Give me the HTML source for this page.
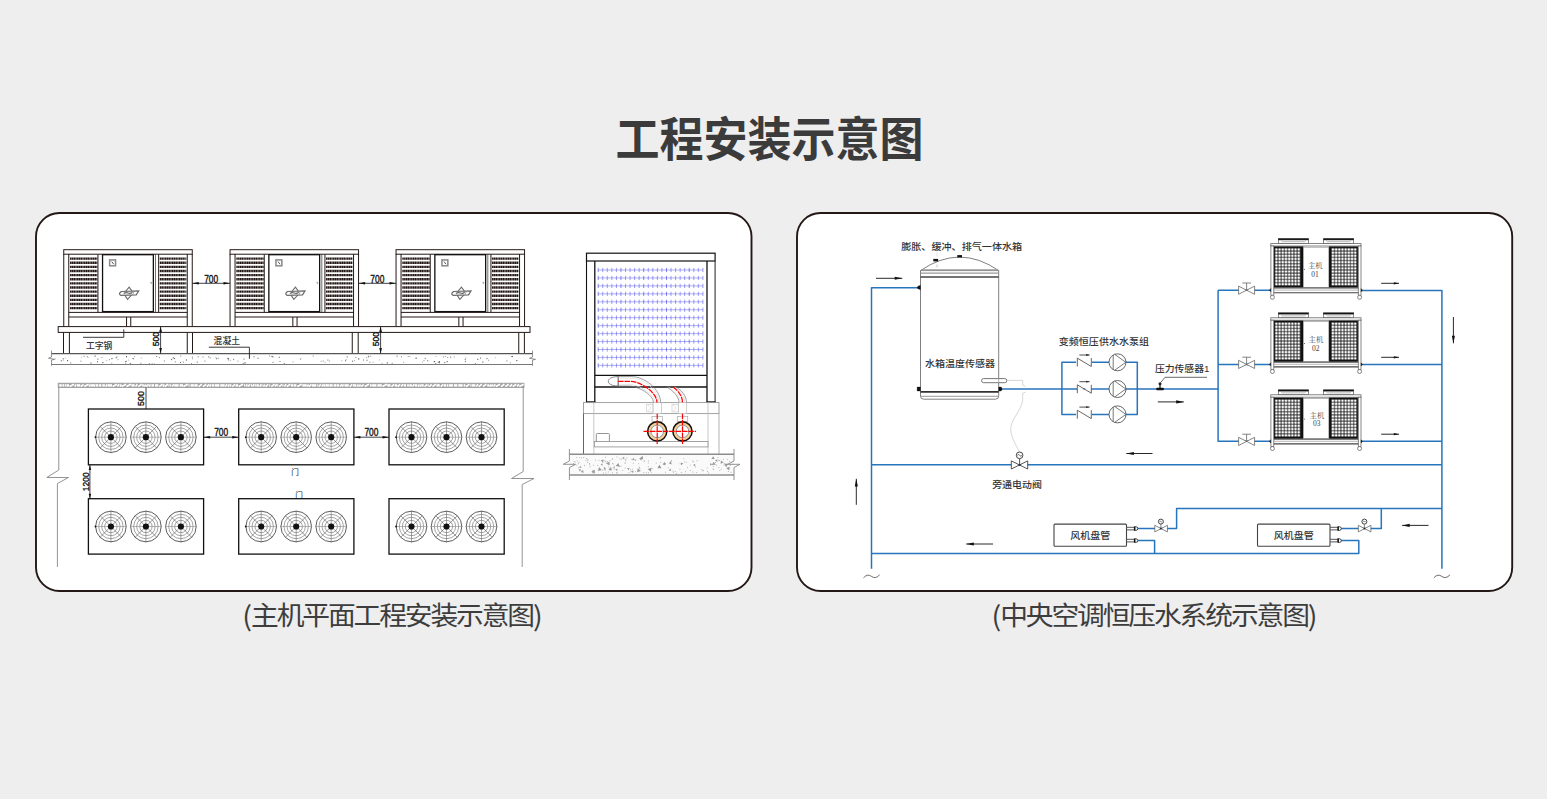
<!DOCTYPE html>
<html lang="zh-CN"><head><meta charset="utf-8"><title>工程安装示意图</title>
<style>
html,body{margin:0;padding:0;background:#eee;}
body{width:1547px;height:799px;position:relative;overflow:hidden;font-family:'Liberation Sans','Noto Sans CJK SC',sans-serif;}
#title{position:absolute;left:0.9px;top:107.5px;width:1537px;text-align:center;font-size:44px;line-height:64px;font-weight:700;color:#3b3b3b;letter-spacing:0;white-space:nowrap;transform:scaleY(1.065);transform-origin:50% 50%;}
.cap{position:absolute;top:595.2px;font-size:26px;letter-spacing:-2px;line-height:38px;color:#3d3d3d;font-weight:400;white-space:nowrap;text-align:center;transform:scale(1.068,1.0);transform-origin:50% 50%;}
.cap i{font-style:normal;font-family:'Noto Sans CJK SC',sans-serif;font-weight:400;font-size:27px;position:relative;top:0.7px;letter-spacing:-1px;}
svg{position:absolute;left:0;top:0;}
</style></head><body>
<svg width="1547" height="799" viewBox="0 0 1547 799">
<defs>
<pattern id="mesh" x="1274.8" y="247.93" width="3.19" height="3.15" patternUnits="userSpaceOnUse"><rect x="0.4" y="0.4" width="2.39" height="2.35" fill="#fff"/></pattern>
<pattern id="mesh2" x="1331.3" y="247.93" width="3.19" height="3.15" patternUnits="userSpaceOnUse"><rect x="0.4" y="0.4" width="2.39" height="2.35" fill="#fff"/></pattern>
</defs>
<g id="left-diagram">
<rect x="36" y="213" width="715.5" height="378" rx="23.5" ry="23.5" fill="#fff" stroke="#231815" stroke-width="1.9"/>
<rect x="797" y="213" width="715.2" height="378" rx="23.5" ry="23.5" fill="#fff" stroke="#231815" stroke-width="1.9"/>
<rect x="63.75" y="249.70" width="128.50" height="4.50" stroke="#231815" stroke-width="1" fill="#fff" />
<line x1="63.75" y1="254.00" x2="63.75" y2="326.50" stroke="#231815" stroke-width="1" />
<line x1="68.75" y1="254.00" x2="68.75" y2="326.50" stroke="#231815" stroke-width="1" />
<line x1="187.25" y1="254.00" x2="187.25" y2="326.50" stroke="#231815" stroke-width="1" />
<line x1="192.25" y1="254.00" x2="192.25" y2="326.50" stroke="#231815" stroke-width="1" />
<line x1="97.95" y1="254.30" x2="97.95" y2="312.30" stroke="#231815" stroke-width="1.0" />
<line x1="70.05" y1="258.60" x2="97.35" y2="258.60" stroke="#231815" stroke-width="2.4" stroke-dasharray="1.45 0.3"/>
<line x1="70.05" y1="262.73" x2="97.35" y2="262.73" stroke="#231815" stroke-width="2.4" stroke-dasharray="1.45 0.3"/>
<line x1="70.05" y1="266.86" x2="97.35" y2="266.86" stroke="#231815" stroke-width="2.4" stroke-dasharray="1.45 0.3"/>
<line x1="70.05" y1="270.99" x2="97.35" y2="270.99" stroke="#231815" stroke-width="2.4" stroke-dasharray="1.45 0.3"/>
<line x1="70.05" y1="275.12" x2="97.35" y2="275.12" stroke="#231815" stroke-width="2.4" stroke-dasharray="1.45 0.3"/>
<line x1="70.05" y1="279.25" x2="97.35" y2="279.25" stroke="#231815" stroke-width="2.4" stroke-dasharray="1.45 0.3"/>
<line x1="70.05" y1="283.38" x2="97.35" y2="283.38" stroke="#231815" stroke-width="2.4" stroke-dasharray="1.45 0.3"/>
<line x1="70.05" y1="287.51" x2="97.35" y2="287.51" stroke="#231815" stroke-width="2.4" stroke-dasharray="1.45 0.3"/>
<line x1="70.05" y1="291.64" x2="97.35" y2="291.64" stroke="#231815" stroke-width="2.4" stroke-dasharray="1.45 0.3"/>
<line x1="70.05" y1="295.77" x2="97.35" y2="295.77" stroke="#231815" stroke-width="2.4" stroke-dasharray="1.45 0.3"/>
<line x1="70.05" y1="299.90" x2="97.35" y2="299.90" stroke="#231815" stroke-width="2.4" stroke-dasharray="1.45 0.3"/>
<line x1="70.05" y1="304.03" x2="97.35" y2="304.03" stroke="#231815" stroke-width="2.4" stroke-dasharray="1.45 0.3"/>
<line x1="70.05" y1="308.16" x2="97.35" y2="308.16" stroke="#231815" stroke-width="2.4" stroke-dasharray="1.45 0.3"/>
<line x1="158.65" y1="254.30" x2="158.65" y2="312.30" stroke="#231815" stroke-width="1.0" />
<line x1="159.75" y1="258.60" x2="186.35" y2="258.60" stroke="#231815" stroke-width="2.4" stroke-dasharray="1.45 0.3"/>
<line x1="159.75" y1="262.73" x2="186.35" y2="262.73" stroke="#231815" stroke-width="2.4" stroke-dasharray="1.45 0.3"/>
<line x1="159.75" y1="266.86" x2="186.35" y2="266.86" stroke="#231815" stroke-width="2.4" stroke-dasharray="1.45 0.3"/>
<line x1="159.75" y1="270.99" x2="186.35" y2="270.99" stroke="#231815" stroke-width="2.4" stroke-dasharray="1.45 0.3"/>
<line x1="159.75" y1="275.12" x2="186.35" y2="275.12" stroke="#231815" stroke-width="2.4" stroke-dasharray="1.45 0.3"/>
<line x1="159.75" y1="279.25" x2="186.35" y2="279.25" stroke="#231815" stroke-width="2.4" stroke-dasharray="1.45 0.3"/>
<line x1="159.75" y1="283.38" x2="186.35" y2="283.38" stroke="#231815" stroke-width="2.4" stroke-dasharray="1.45 0.3"/>
<line x1="159.75" y1="287.51" x2="186.35" y2="287.51" stroke="#231815" stroke-width="2.4" stroke-dasharray="1.45 0.3"/>
<line x1="159.75" y1="291.64" x2="186.35" y2="291.64" stroke="#231815" stroke-width="2.4" stroke-dasharray="1.45 0.3"/>
<line x1="159.75" y1="295.77" x2="186.35" y2="295.77" stroke="#231815" stroke-width="2.4" stroke-dasharray="1.45 0.3"/>
<line x1="159.75" y1="299.90" x2="186.35" y2="299.90" stroke="#231815" stroke-width="2.4" stroke-dasharray="1.45 0.3"/>
<line x1="159.75" y1="304.03" x2="186.35" y2="304.03" stroke="#231815" stroke-width="2.4" stroke-dasharray="1.45 0.3"/>
<line x1="159.75" y1="308.16" x2="186.35" y2="308.16" stroke="#231815" stroke-width="2.4" stroke-dasharray="1.45 0.3"/>
<rect x="102.55" y="254.70" width="50.80" height="56.90" stroke="#111" stroke-width="1.3" fill="#fff" />
<line x1="155.50" y1="254.30" x2="155.50" y2="312.30" stroke="#333" stroke-width="0.7" />
<line x1="68.75" y1="312.40" x2="187.25" y2="312.40" stroke="#231815" stroke-width="1" />
<line x1="68.75" y1="317.00" x2="187.25" y2="317.00" stroke="#231815" stroke-width="1" />
<line x1="126.55" y1="317.00" x2="126.55" y2="326.50" stroke="#231815" stroke-width="1" />
<line x1="130.75" y1="317.00" x2="130.75" y2="326.50" stroke="#231815" stroke-width="1" />
<rect x="109.65" y="259.90" width="5.90" height="5.90" stroke="#888" stroke-width="1.5" fill="#fff" />
<path d="M111.75 261.6 L113.65 264.2" stroke="#444" stroke-width="0.9" fill="none" />
<path d="M149.95 282.4 h1.6 l-0.4 1.8" stroke="#888" stroke-width="0.7" fill="none" />
<path d="M123.75 293.50 L129.15 287.20 L133.35 293.00 L127.55 299.40 Z" stroke="#6a6a6a" stroke-width="1.1" fill="none" />
<path d="M120.65 295.30 q-2.6 -1.6 0.6 -3.8 L138.65 291.00 L136.25 294.80 Z" stroke="#6a6a6a" stroke-width="1.25" fill="#fff" />
<path d="M123.65 293.50 q2 -1.4 4.4 -0.5 t4.4 -0.7" stroke="#666" stroke-width="1.3" fill="none" />
<path d="M133.85 291.60 l-0.9 2.9" stroke="#888" stroke-width="0.7" fill="none" />
<rect x="230.05" y="249.70" width="128.50" height="4.50" stroke="#231815" stroke-width="1" fill="#fff" />
<line x1="230.05" y1="254.00" x2="230.05" y2="326.50" stroke="#231815" stroke-width="1" />
<line x1="235.05" y1="254.00" x2="235.05" y2="326.50" stroke="#231815" stroke-width="1" />
<line x1="353.55" y1="254.00" x2="353.55" y2="326.50" stroke="#231815" stroke-width="1" />
<line x1="358.55" y1="254.00" x2="358.55" y2="326.50" stroke="#231815" stroke-width="1" />
<line x1="264.25" y1="254.30" x2="264.25" y2="312.30" stroke="#231815" stroke-width="1.0" />
<line x1="236.35" y1="258.60" x2="263.65" y2="258.60" stroke="#231815" stroke-width="2.4" stroke-dasharray="1.45 0.3"/>
<line x1="236.35" y1="262.73" x2="263.65" y2="262.73" stroke="#231815" stroke-width="2.4" stroke-dasharray="1.45 0.3"/>
<line x1="236.35" y1="266.86" x2="263.65" y2="266.86" stroke="#231815" stroke-width="2.4" stroke-dasharray="1.45 0.3"/>
<line x1="236.35" y1="270.99" x2="263.65" y2="270.99" stroke="#231815" stroke-width="2.4" stroke-dasharray="1.45 0.3"/>
<line x1="236.35" y1="275.12" x2="263.65" y2="275.12" stroke="#231815" stroke-width="2.4" stroke-dasharray="1.45 0.3"/>
<line x1="236.35" y1="279.25" x2="263.65" y2="279.25" stroke="#231815" stroke-width="2.4" stroke-dasharray="1.45 0.3"/>
<line x1="236.35" y1="283.38" x2="263.65" y2="283.38" stroke="#231815" stroke-width="2.4" stroke-dasharray="1.45 0.3"/>
<line x1="236.35" y1="287.51" x2="263.65" y2="287.51" stroke="#231815" stroke-width="2.4" stroke-dasharray="1.45 0.3"/>
<line x1="236.35" y1="291.64" x2="263.65" y2="291.64" stroke="#231815" stroke-width="2.4" stroke-dasharray="1.45 0.3"/>
<line x1="236.35" y1="295.77" x2="263.65" y2="295.77" stroke="#231815" stroke-width="2.4" stroke-dasharray="1.45 0.3"/>
<line x1="236.35" y1="299.90" x2="263.65" y2="299.90" stroke="#231815" stroke-width="2.4" stroke-dasharray="1.45 0.3"/>
<line x1="236.35" y1="304.03" x2="263.65" y2="304.03" stroke="#231815" stroke-width="2.4" stroke-dasharray="1.45 0.3"/>
<line x1="236.35" y1="308.16" x2="263.65" y2="308.16" stroke="#231815" stroke-width="2.4" stroke-dasharray="1.45 0.3"/>
<line x1="324.95" y1="254.30" x2="324.95" y2="312.30" stroke="#231815" stroke-width="1.0" />
<line x1="326.05" y1="258.60" x2="352.65" y2="258.60" stroke="#231815" stroke-width="2.4" stroke-dasharray="1.45 0.3"/>
<line x1="326.05" y1="262.73" x2="352.65" y2="262.73" stroke="#231815" stroke-width="2.4" stroke-dasharray="1.45 0.3"/>
<line x1="326.05" y1="266.86" x2="352.65" y2="266.86" stroke="#231815" stroke-width="2.4" stroke-dasharray="1.45 0.3"/>
<line x1="326.05" y1="270.99" x2="352.65" y2="270.99" stroke="#231815" stroke-width="2.4" stroke-dasharray="1.45 0.3"/>
<line x1="326.05" y1="275.12" x2="352.65" y2="275.12" stroke="#231815" stroke-width="2.4" stroke-dasharray="1.45 0.3"/>
<line x1="326.05" y1="279.25" x2="352.65" y2="279.25" stroke="#231815" stroke-width="2.4" stroke-dasharray="1.45 0.3"/>
<line x1="326.05" y1="283.38" x2="352.65" y2="283.38" stroke="#231815" stroke-width="2.4" stroke-dasharray="1.45 0.3"/>
<line x1="326.05" y1="287.51" x2="352.65" y2="287.51" stroke="#231815" stroke-width="2.4" stroke-dasharray="1.45 0.3"/>
<line x1="326.05" y1="291.64" x2="352.65" y2="291.64" stroke="#231815" stroke-width="2.4" stroke-dasharray="1.45 0.3"/>
<line x1="326.05" y1="295.77" x2="352.65" y2="295.77" stroke="#231815" stroke-width="2.4" stroke-dasharray="1.45 0.3"/>
<line x1="326.05" y1="299.90" x2="352.65" y2="299.90" stroke="#231815" stroke-width="2.4" stroke-dasharray="1.45 0.3"/>
<line x1="326.05" y1="304.03" x2="352.65" y2="304.03" stroke="#231815" stroke-width="2.4" stroke-dasharray="1.45 0.3"/>
<line x1="326.05" y1="308.16" x2="352.65" y2="308.16" stroke="#231815" stroke-width="2.4" stroke-dasharray="1.45 0.3"/>
<rect x="268.85" y="254.70" width="50.80" height="56.90" stroke="#111" stroke-width="1.3" fill="#fff" />
<line x1="321.80" y1="254.30" x2="321.80" y2="312.30" stroke="#333" stroke-width="0.7" />
<line x1="235.05" y1="312.40" x2="353.55" y2="312.40" stroke="#231815" stroke-width="1" />
<line x1="235.05" y1="317.00" x2="353.55" y2="317.00" stroke="#231815" stroke-width="1" />
<line x1="292.85" y1="317.00" x2="292.85" y2="326.50" stroke="#231815" stroke-width="1" />
<line x1="297.05" y1="317.00" x2="297.05" y2="326.50" stroke="#231815" stroke-width="1" />
<rect x="275.95" y="259.90" width="5.90" height="5.90" stroke="#888" stroke-width="1.5" fill="#fff" />
<path d="M278.05 261.6 L279.95 264.2" stroke="#444" stroke-width="0.9" fill="none" />
<path d="M316.25 282.4 h1.6 l-0.4 1.8" stroke="#888" stroke-width="0.7" fill="none" />
<path d="M290.05 293.50 L295.45 287.20 L299.65 293.00 L293.85 299.40 Z" stroke="#6a6a6a" stroke-width="1.1" fill="none" />
<path d="M286.95 295.30 q-2.6 -1.6 0.6 -3.8 L304.95 291.00 L302.55 294.80 Z" stroke="#6a6a6a" stroke-width="1.25" fill="#fff" />
<path d="M289.95 293.50 q2 -1.4 4.4 -0.5 t4.4 -0.7" stroke="#666" stroke-width="1.3" fill="none" />
<path d="M300.15 291.60 l-0.9 2.9" stroke="#888" stroke-width="0.7" fill="none" />
<rect x="396.05" y="249.70" width="128.50" height="4.50" stroke="#231815" stroke-width="1" fill="#fff" />
<line x1="396.05" y1="254.00" x2="396.05" y2="326.50" stroke="#231815" stroke-width="1" />
<line x1="401.05" y1="254.00" x2="401.05" y2="326.50" stroke="#231815" stroke-width="1" />
<line x1="519.55" y1="254.00" x2="519.55" y2="326.50" stroke="#231815" stroke-width="1" />
<line x1="524.55" y1="254.00" x2="524.55" y2="326.50" stroke="#231815" stroke-width="1" />
<line x1="430.25" y1="254.30" x2="430.25" y2="312.30" stroke="#231815" stroke-width="1.0" />
<line x1="402.35" y1="258.60" x2="429.65" y2="258.60" stroke="#231815" stroke-width="2.4" stroke-dasharray="1.45 0.3"/>
<line x1="402.35" y1="262.73" x2="429.65" y2="262.73" stroke="#231815" stroke-width="2.4" stroke-dasharray="1.45 0.3"/>
<line x1="402.35" y1="266.86" x2="429.65" y2="266.86" stroke="#231815" stroke-width="2.4" stroke-dasharray="1.45 0.3"/>
<line x1="402.35" y1="270.99" x2="429.65" y2="270.99" stroke="#231815" stroke-width="2.4" stroke-dasharray="1.45 0.3"/>
<line x1="402.35" y1="275.12" x2="429.65" y2="275.12" stroke="#231815" stroke-width="2.4" stroke-dasharray="1.45 0.3"/>
<line x1="402.35" y1="279.25" x2="429.65" y2="279.25" stroke="#231815" stroke-width="2.4" stroke-dasharray="1.45 0.3"/>
<line x1="402.35" y1="283.38" x2="429.65" y2="283.38" stroke="#231815" stroke-width="2.4" stroke-dasharray="1.45 0.3"/>
<line x1="402.35" y1="287.51" x2="429.65" y2="287.51" stroke="#231815" stroke-width="2.4" stroke-dasharray="1.45 0.3"/>
<line x1="402.35" y1="291.64" x2="429.65" y2="291.64" stroke="#231815" stroke-width="2.4" stroke-dasharray="1.45 0.3"/>
<line x1="402.35" y1="295.77" x2="429.65" y2="295.77" stroke="#231815" stroke-width="2.4" stroke-dasharray="1.45 0.3"/>
<line x1="402.35" y1="299.90" x2="429.65" y2="299.90" stroke="#231815" stroke-width="2.4" stroke-dasharray="1.45 0.3"/>
<line x1="402.35" y1="304.03" x2="429.65" y2="304.03" stroke="#231815" stroke-width="2.4" stroke-dasharray="1.45 0.3"/>
<line x1="402.35" y1="308.16" x2="429.65" y2="308.16" stroke="#231815" stroke-width="2.4" stroke-dasharray="1.45 0.3"/>
<line x1="490.95" y1="254.30" x2="490.95" y2="312.30" stroke="#231815" stroke-width="1.0" />
<line x1="492.05" y1="258.60" x2="518.65" y2="258.60" stroke="#231815" stroke-width="2.4" stroke-dasharray="1.45 0.3"/>
<line x1="492.05" y1="262.73" x2="518.65" y2="262.73" stroke="#231815" stroke-width="2.4" stroke-dasharray="1.45 0.3"/>
<line x1="492.05" y1="266.86" x2="518.65" y2="266.86" stroke="#231815" stroke-width="2.4" stroke-dasharray="1.45 0.3"/>
<line x1="492.05" y1="270.99" x2="518.65" y2="270.99" stroke="#231815" stroke-width="2.4" stroke-dasharray="1.45 0.3"/>
<line x1="492.05" y1="275.12" x2="518.65" y2="275.12" stroke="#231815" stroke-width="2.4" stroke-dasharray="1.45 0.3"/>
<line x1="492.05" y1="279.25" x2="518.65" y2="279.25" stroke="#231815" stroke-width="2.4" stroke-dasharray="1.45 0.3"/>
<line x1="492.05" y1="283.38" x2="518.65" y2="283.38" stroke="#231815" stroke-width="2.4" stroke-dasharray="1.45 0.3"/>
<line x1="492.05" y1="287.51" x2="518.65" y2="287.51" stroke="#231815" stroke-width="2.4" stroke-dasharray="1.45 0.3"/>
<line x1="492.05" y1="291.64" x2="518.65" y2="291.64" stroke="#231815" stroke-width="2.4" stroke-dasharray="1.45 0.3"/>
<line x1="492.05" y1="295.77" x2="518.65" y2="295.77" stroke="#231815" stroke-width="2.4" stroke-dasharray="1.45 0.3"/>
<line x1="492.05" y1="299.90" x2="518.65" y2="299.90" stroke="#231815" stroke-width="2.4" stroke-dasharray="1.45 0.3"/>
<line x1="492.05" y1="304.03" x2="518.65" y2="304.03" stroke="#231815" stroke-width="2.4" stroke-dasharray="1.45 0.3"/>
<line x1="492.05" y1="308.16" x2="518.65" y2="308.16" stroke="#231815" stroke-width="2.4" stroke-dasharray="1.45 0.3"/>
<rect x="434.85" y="254.70" width="50.80" height="56.90" stroke="#111" stroke-width="1.3" fill="#fff" />
<line x1="487.80" y1="254.30" x2="487.80" y2="312.30" stroke="#333" stroke-width="0.7" />
<line x1="401.05" y1="312.40" x2="519.55" y2="312.40" stroke="#231815" stroke-width="1" />
<line x1="401.05" y1="317.00" x2="519.55" y2="317.00" stroke="#231815" stroke-width="1" />
<line x1="458.85" y1="317.00" x2="458.85" y2="326.50" stroke="#231815" stroke-width="1" />
<line x1="463.05" y1="317.00" x2="463.05" y2="326.50" stroke="#231815" stroke-width="1" />
<rect x="441.95" y="259.90" width="5.90" height="5.90" stroke="#888" stroke-width="1.5" fill="#fff" />
<path d="M444.05 261.6 L445.95 264.2" stroke="#444" stroke-width="0.9" fill="none" />
<path d="M482.25 282.4 h1.6 l-0.4 1.8" stroke="#888" stroke-width="0.7" fill="none" />
<path d="M456.05 293.50 L461.45 287.20 L465.65 293.00 L459.85 299.40 Z" stroke="#6a6a6a" stroke-width="1.1" fill="none" />
<path d="M452.95 295.30 q-2.6 -1.6 0.6 -3.8 L470.95 291.00 L468.55 294.80 Z" stroke="#6a6a6a" stroke-width="1.25" fill="#fff" />
<path d="M455.95 293.50 q2 -1.4 4.4 -0.5 t4.4 -0.7" stroke="#666" stroke-width="1.3" fill="none" />
<path d="M466.15 291.60 l-0.9 2.9" stroke="#888" stroke-width="0.7" fill="none" />
<rect x="58.20" y="326.60" width="471.80" height="5.80" stroke="#231815" stroke-width="1" fill="#fff" />
<line x1="63.50" y1="332.50" x2="63.50" y2="353.50" stroke="#231815" stroke-width="1" />
<line x1="69.40" y1="332.50" x2="69.40" y2="353.50" stroke="#231815" stroke-width="1" />
<line x1="187.25" y1="332.50" x2="187.25" y2="353.50" stroke="#231815" stroke-width="1" />
<line x1="192.50" y1="332.50" x2="192.50" y2="353.50" stroke="#231815" stroke-width="1" />
<line x1="352.25" y1="332.50" x2="352.25" y2="353.50" stroke="#231815" stroke-width="1" />
<line x1="358.20" y1="332.50" x2="358.20" y2="353.50" stroke="#231815" stroke-width="1" />
<line x1="518.75" y1="332.50" x2="518.75" y2="353.50" stroke="#231815" stroke-width="1" />
<line x1="524.40" y1="332.50" x2="524.40" y2="353.50" stroke="#231815" stroke-width="1" />
<line x1="51.50" y1="353.60" x2="532.50" y2="353.60" stroke="#555" stroke-width="1.2" />
<line x1="51.50" y1="364.50" x2="532.50" y2="364.50" stroke="#777" stroke-width="1.1" />
<rect x="208.1" y="356.5" width="1.2" height="0.8" fill="#555"/>
<rect x="444.9" y="356.1" width="1.2" height="0.8" fill="#999"/>
<rect x="156.2" y="356.0" width="1.0" height="0.8" fill="#555"/>
<rect x="97.2" y="358.7" width="1.2" height="0.8" fill="#555"/>
<rect x="354.2" y="360.0" width="0.8" height="1.2" fill="#999"/>
<rect x="242.8" y="363.1" width="0.8" height="1.2" fill="#555"/>
<rect x="191.9" y="356.5" width="0.8" height="1.2" fill="#777"/>
<rect x="320.7" y="360.8" width="0.8" height="1.2" fill="#999"/>
<rect x="358.1" y="358.3" width="1.2" height="1.2" fill="#555"/>
<rect x="322.6" y="360.3" width="1.0" height="1.2" fill="#999"/>
<rect x="257.5" y="357.8" width="1.2" height="1.0" fill="#777"/>
<rect x="196.7" y="361.7" width="1.2" height="0.8" fill="#555"/>
<rect x="327.4" y="359.5" width="1.0" height="1.2" fill="#777"/>
<rect x="191.1" y="363.1" width="0.8" height="1.2" fill="#777"/>
<rect x="132.5" y="358.0" width="1.0" height="1.0" fill="#555"/>
<rect x="511.9" y="355.9" width="1.2" height="1.2" fill="#777"/>
<rect x="215.9" y="358.1" width="1.0" height="1.2" fill="#777"/>
<rect x="86.7" y="356.0" width="1.0" height="1.0" fill="#999"/>
<rect x="370.1" y="355.8" width="1.2" height="1.0" fill="#999"/>
<rect x="329.1" y="360.7" width="1.0" height="1.0" fill="#999"/>
<rect x="237.6" y="360.6" width="0.8" height="1.0" fill="#777"/>
<rect x="134.0" y="356.2" width="0.8" height="0.8" fill="#777"/>
<rect x="115.6" y="357.3" width="1.0" height="1.0" fill="#555"/>
<rect x="133.2" y="358.5" width="1.0" height="0.8" fill="#777"/>
<rect x="465.3" y="357.5" width="1.0" height="1.0" fill="#999"/>
<rect x="474.9" y="363.0" width="0.8" height="0.8" fill="#555"/>
<rect x="126.0" y="360.6" width="0.8" height="1.0" fill="#999"/>
<rect x="140.8" y="357.6" width="0.8" height="1.0" fill="#999"/>
<rect x="229.8" y="359.8" width="0.8" height="1.2" fill="#999"/>
<rect x="506.3" y="360.5" width="1.2" height="0.8" fill="#777"/>
<rect x="482.2" y="361.5" width="1.2" height="1.2" fill="#777"/>
<rect x="243.5" y="358.5" width="1.0" height="1.2" fill="#777"/>
<rect x="83.6" y="355.8" width="0.8" height="1.0" fill="#555"/>
<rect x="106.3" y="360.1" width="0.8" height="0.8" fill="#999"/>
<rect x="126.0" y="356.1" width="1.0" height="1.2" fill="#555"/>
<rect x="87.5" y="357.0" width="1.0" height="0.8" fill="#999"/>
<rect x="174.1" y="358.1" width="1.0" height="1.0" fill="#555"/>
<rect x="108.9" y="359.2" width="1.0" height="1.0" fill="#777"/>
<rect x="202.4" y="356.5" width="1.2" height="1.0" fill="#999"/>
<rect x="180.0" y="361.9" width="0.8" height="1.2" fill="#555"/>
<rect x="151.7" y="362.9" width="1.0" height="0.8" fill="#999"/>
<rect x="312.6" y="355.5" width="1.2" height="1.0" fill="#999"/>
<rect x="464.9" y="360.9" width="1.0" height="1.2" fill="#777"/>
<rect x="486.3" y="358.1" width="0.8" height="1.2" fill="#999"/>
<rect x="424.8" y="357.9" width="0.8" height="1.2" fill="#555"/>
<rect x="437.7" y="361.8" width="1.2" height="0.8" fill="#555"/>
<rect x="300.4" y="358.1" width="0.8" height="0.8" fill="#777"/>
<rect x="278.8" y="356.8" width="1.2" height="1.0" fill="#777"/>
<rect x="438.9" y="361.1" width="1.0" height="1.0" fill="#555"/>
<rect x="158.9" y="357.1" width="0.8" height="1.0" fill="#555"/>
<rect x="283.7" y="363.2" width="1.2" height="0.8" fill="#777"/>
<rect x="486.8" y="358.1" width="1.2" height="0.8" fill="#999"/>
<rect x="111.1" y="358.4" width="1.2" height="0.8" fill="#777"/>
<rect x="477.2" y="358.8" width="1.2" height="1.0" fill="#555"/>
<rect x="435.2" y="363.1" width="1.0" height="1.0" fill="#777"/>
<rect x="407.8" y="356.0" width="0.8" height="0.8" fill="#555"/>
<rect x="67.1" y="360.0" width="1.0" height="1.2" fill="#555"/>
<rect x="345.1" y="360.1" width="1.0" height="1.2" fill="#777"/>
<rect x="128.2" y="359.7" width="0.8" height="0.8" fill="#999"/>
<rect x="363.2" y="359.5" width="0.8" height="1.0" fill="#555"/>
<rect x="447.2" y="357.0" width="1.0" height="0.8" fill="#777"/>
<rect x="292.6" y="361.4" width="1.0" height="1.0" fill="#999"/>
<rect x="253.4" y="356.3" width="1.2" height="1.0" fill="#777"/>
<rect x="369.3" y="361.8" width="1.2" height="1.0" fill="#999"/>
<rect x="116.2" y="356.5" width="1.2" height="0.8" fill="#777"/>
<rect x="423.6" y="360.2" width="0.8" height="0.8" fill="#555"/>
<rect x="279.4" y="361.1" width="1.2" height="0.8" fill="#777"/>
<rect x="378.8" y="359.5" width="1.0" height="0.8" fill="#999"/>
<rect x="81.0" y="356.8" width="0.8" height="0.8" fill="#999"/>
<rect x="269.2" y="355.5" width="0.8" height="1.0" fill="#777"/>
<rect x="345.6" y="359.3" width="1.2" height="0.8" fill="#999"/>
<rect x="185.9" y="359.4" width="1.0" height="1.2" fill="#555"/>
<rect x="386.8" y="362.3" width="1.0" height="1.2" fill="#555"/>
<rect x="453.8" y="356.4" width="0.8" height="1.0" fill="#777"/>
<rect x="204.4" y="360.7" width="1.0" height="0.8" fill="#555"/>
<rect x="372.7" y="361.6" width="0.8" height="1.2" fill="#999"/>
<rect x="368.3" y="356.4" width="0.8" height="1.0" fill="#555"/>
<rect x="409.4" y="356.1" width="1.0" height="0.8" fill="#999"/>
<rect x="450.2" y="356.6" width="1.0" height="1.2" fill="#777"/>
<rect x="215.4" y="356.9" width="1.0" height="0.8" fill="#999"/>
<rect x="228.2" y="358.0" width="1.0" height="1.0" fill="#999"/>
<rect x="62.6" y="358.0" width="1.2" height="1.0" fill="#999"/>
<rect x="511.3" y="356.2" width="0.8" height="0.8" fill="#555"/>
<rect x="180.4" y="355.6" width="0.8" height="1.0" fill="#555"/>
<rect x="444.2" y="362.1" width="1.2" height="1.0" fill="#777"/>
<rect x="125.1" y="362.7" width="1.2" height="1.0" fill="#999"/>
<rect x="209.7" y="357.5" width="1.2" height="0.8" fill="#777"/>
<rect x="480.2" y="357.5" width="0.8" height="1.2" fill="#555"/>
<rect x="435.6" y="356.0" width="0.8" height="0.8" fill="#777"/>
<rect x="464.7" y="358.9" width="1.0" height="1.2" fill="#777"/>
<rect x="495.1" y="357.4" width="0.8" height="0.8" fill="#999"/>
<rect x="391.7" y="362.8" width="0.8" height="1.0" fill="#555"/>
<rect x="140.2" y="362.8" width="1.2" height="1.0" fill="#999"/>
<rect x="415.5" y="357.6" width="1.2" height="1.2" fill="#555"/>
<rect x="182.8" y="361.7" width="1.0" height="0.8" fill="#555"/>
<rect x="62.8" y="359.3" width="0.8" height="1.2" fill="#777"/>
<rect x="170.9" y="358.9" width="1.2" height="1.2" fill="#777"/>
<rect x="366.5" y="359.7" width="1.0" height="1.2" fill="#777"/>
<rect x="381.4" y="363.2" width="1.0" height="0.8" fill="#999"/>
<rect x="400.9" y="356.4" width="1.0" height="0.8" fill="#555"/>
<rect x="60.8" y="360.3" width="1.0" height="1.0" fill="#555"/>
<rect x="80.4" y="360.6" width="1.0" height="1.2" fill="#999"/>
<rect x="516.2" y="360.1" width="1.2" height="1.0" fill="#555"/>
<rect x="272.7" y="356.6" width="1.0" height="0.8" fill="#777"/>
<rect x="227.3" y="357.9" width="1.2" height="1.0" fill="#555"/>
<rect x="70.4" y="362.4" width="0.8" height="1.0" fill="#555"/>
<rect x="54.5" y="358.4" width="1.0" height="1.0" fill="#999"/>
<rect x="366.3" y="357.3" width="0.8" height="0.8" fill="#777"/>
<rect x="442.9" y="356.5" width="1.2" height="0.8" fill="#777"/>
<rect x="64.7" y="357.7" width="0.8" height="0.8" fill="#999"/>
<rect x="509.8" y="362.1" width="0.8" height="1.2" fill="#999"/>
<rect x="427.2" y="360.1" width="1.0" height="1.2" fill="#777"/>
<rect x="125.1" y="361.1" width="1.2" height="0.8" fill="#555"/>
<rect x="446.6" y="361.0" width="1.2" height="1.2" fill="#777"/>
<rect x="403.3" y="361.8" width="0.8" height="1.2" fill="#999"/>
<rect x="324.6" y="361.8" width="0.8" height="1.2" fill="#999"/>
<rect x="433.8" y="361.0" width="1.2" height="1.2" fill="#555"/>
<rect x="94.5" y="355.6" width="1.2" height="1.0" fill="#555"/>
<rect x="233.3" y="358.9" width="0.8" height="1.2" fill="#555"/>
<rect x="352.1" y="360.7" width="1.0" height="1.0" fill="#555"/>
<rect x="271.5" y="355.9" width="1.2" height="1.2" fill="#555"/>
<rect x="367.8" y="355.8" width="1.2" height="1.0" fill="#777"/>
<rect x="439.2" y="362.1" width="0.8" height="1.2" fill="#555"/>
<rect x="163.8" y="360.5" width="1.0" height="1.0" fill="#777"/>
<rect x="90.5" y="362.6" width="1.0" height="0.8" fill="#999"/>
<rect x="355.2" y="356.9" width="1.2" height="0.8" fill="#777"/>
<rect x="174.9" y="361.2" width="1.0" height="1.2" fill="#999"/>
<rect x="117.5" y="359.2" width="1.0" height="1.0" fill="#999"/>
<rect x="101.4" y="357.0" width="1.0" height="1.0" fill="#999"/>
<rect x="299.9" y="359.0" width="1.0" height="0.8" fill="#999"/>
<rect x="148.8" y="363.1" width="1.0" height="0.8" fill="#777"/>
<rect x="272.5" y="361.9" width="1.0" height="1.0" fill="#777"/>
<rect x="153.9" y="362.9" width="0.8" height="0.8" fill="#999"/>
<rect x="97.0" y="361.3" width="1.0" height="1.0" fill="#555"/>
<rect x="341.2" y="360.4" width="1.0" height="0.8" fill="#999"/>
<rect x="227.8" y="359.3" width="1.0" height="1.0" fill="#555"/>
<rect x="129.7" y="362.9" width="1.2" height="1.0" fill="#777"/>
<rect x="197.7" y="356.4" width="1.0" height="1.0" fill="#777"/>
<rect x="111.6" y="358.0" width="1.0" height="1.0" fill="#777"/>
<rect x="111.1" y="362.7" width="1.2" height="0.8" fill="#999"/>
<rect x="192.0" y="358.3" width="1.0" height="1.0" fill="#999"/>
<rect x="90.4" y="362.7" width="1.0" height="0.8" fill="#777"/>
<rect x="102.4" y="362.0" width="1.0" height="1.2" fill="#555"/>
<rect x="172.7" y="357.4" width="1.2" height="1.0" fill="#555"/>
<rect x="422.0" y="361.6" width="1.0" height="0.8" fill="#999"/>
<rect x="244.4" y="362.3" width="1.2" height="1.2" fill="#555"/>
<rect x="396.5" y="355.7" width="1.2" height="1.0" fill="#777"/>
<rect x="346.7" y="356.4" width="1.0" height="1.0" fill="#555"/>
<rect x="488.1" y="359.7" width="0.8" height="1.0" fill="#777"/>
<rect x="217.6" y="357.7" width="1.2" height="1.2" fill="#999"/>
<path d="M51.5 350.6 V357 L48.5 358.2 L54.5 359.4 L51.5 360 V365.8" stroke="#777" stroke-width="0.8" fill="none" />
<path d="M532.5 350.6 V357 L529.5 358.2 L535.5 359.4 L532.5 360 V365.8" stroke="#777" stroke-width="0.8" fill="none" />
<line x1="192.30" y1="283.30" x2="230.00" y2="283.30" stroke="#111" stroke-width="0.8" />
<polygon points="230.00,283.30 223.50,282.10 223.50,284.50" fill="#111"/>
<polygon points="192.30,283.30 198.80,282.10 198.80,284.50" fill="#111"/>
<text x="211.15" y="282.50" font-size="10" fill="#111" text-anchor="middle" font-family="'Liberation Sans','Noto Sans CJK SC',sans-serif" font-weight="400" textLength="14" lengthAdjust="spacingAndGlyphs" stroke="#111" stroke-width="0.35">700</text>
<line x1="358.60" y1="283.30" x2="396.00" y2="283.30" stroke="#111" stroke-width="0.8" />
<polygon points="396.00,283.30 389.50,282.10 389.50,284.50" fill="#111"/>
<polygon points="358.60,283.30 365.10,282.10 365.10,284.50" fill="#111"/>
<text x="377.30" y="282.50" font-size="10" fill="#111" text-anchor="middle" font-family="'Liberation Sans','Noto Sans CJK SC',sans-serif" font-weight="400" textLength="14" lengthAdjust="spacingAndGlyphs" stroke="#111" stroke-width="0.35">700</text>
<line x1="160.60" y1="326.50" x2="160.60" y2="353.50" stroke="#111" stroke-width="0.8" />
<polygon points="160.60,353.50 159.30,348.00 161.90,348.00" fill="#111"/>
<polygon points="160.60,326.50 159.30,332.00 161.90,332.00" fill="#111"/>
<text transform="translate(159.30,339.20) rotate(-90)" font-size="9.3" fill="#111" text-anchor="middle" font-family="'Liberation Sans',sans-serif" textLength="14.2" lengthAdjust="spacingAndGlyphs" stroke="#111" stroke-width="0.35">500</text>
<line x1="380.60" y1="326.50" x2="380.60" y2="353.50" stroke="#111" stroke-width="0.8" />
<polygon points="380.60,353.50 379.30,348.00 381.90,348.00" fill="#111"/>
<polygon points="380.60,326.50 379.30,332.00 381.90,332.00" fill="#111"/>
<text transform="translate(379.30,339.20) rotate(-90)" font-size="9.3" fill="#111" text-anchor="middle" font-family="'Liberation Sans',sans-serif" textLength="14.2" lengthAdjust="spacingAndGlyphs" stroke="#111" stroke-width="0.35">500</text>
<path d="M123.8 329.4 V337.3 H83" stroke="#222" stroke-width="0.9" fill="none" />
<text x="86.00" y="349.30" font-size="8.8" fill="#333" text-anchor="start" font-family="'Liberation Sans','Noto Sans CJK SC',sans-serif" font-weight="500" >工字钢</text>
<path d="M208.8 347.2 H249.4 V358.8" stroke="#222" stroke-width="0.9" fill="none" />
<text x="213.60" y="344.10" font-size="8.8" fill="#333" text-anchor="start" font-family="'Liberation Sans','Noto Sans CJK SC',sans-serif" font-weight="500" >混凝土</text>
<rect x="586.50" y="253.20" width="128.60" height="7.80" stroke="#111" stroke-width="1.2" fill="#fff" />
<line x1="586.50" y1="261.00" x2="586.50" y2="402.70" stroke="#111" stroke-width="1.1" />
<line x1="594.80" y1="261.00" x2="594.80" y2="402.70" stroke="#111" stroke-width="1.3" />
<line x1="707.00" y1="261.00" x2="707.00" y2="402.70" stroke="#111" stroke-width="1.3" />
<line x1="715.10" y1="261.00" x2="715.10" y2="402.70" stroke="#333" stroke-width="1.1" />
<line x1="586.00" y1="402.20" x2="595.30" y2="402.20" stroke="#111" stroke-width="1.8" />
<line x1="706.50" y1="402.20" x2="715.60" y2="402.20" stroke="#111" stroke-width="1.8" />
<line x1="598.20" y1="270.00" x2="702.90" y2="270.00" stroke="#a0a0f8" stroke-width="0.85" />
<line x1="598.20" y1="267.90" x2="598.20" y2="272.10" stroke="#5050e8" stroke-width="0.7" />
<line x1="602.75" y1="267.90" x2="602.75" y2="272.10" stroke="#7070f0" stroke-width="0.7" />
<line x1="607.30" y1="267.90" x2="607.30" y2="272.10" stroke="#7070f0" stroke-width="0.7" />
<line x1="611.86" y1="267.90" x2="611.86" y2="272.10" stroke="#7070f0" stroke-width="0.7" />
<line x1="616.41" y1="267.90" x2="616.41" y2="272.10" stroke="#7070f0" stroke-width="0.7" />
<line x1="620.96" y1="267.90" x2="620.96" y2="272.10" stroke="#5050e8" stroke-width="0.7" />
<line x1="625.51" y1="267.90" x2="625.51" y2="272.10" stroke="#7070f0" stroke-width="0.7" />
<line x1="630.06" y1="267.90" x2="630.06" y2="272.10" stroke="#7070f0" stroke-width="0.7" />
<line x1="634.62" y1="267.90" x2="634.62" y2="272.10" stroke="#7070f0" stroke-width="0.7" />
<line x1="639.17" y1="267.90" x2="639.17" y2="272.10" stroke="#7070f0" stroke-width="0.7" />
<line x1="643.72" y1="267.90" x2="643.72" y2="272.10" stroke="#5050e8" stroke-width="0.7" />
<line x1="648.27" y1="267.90" x2="648.27" y2="272.10" stroke="#7070f0" stroke-width="0.7" />
<line x1="652.82" y1="267.90" x2="652.82" y2="272.10" stroke="#7070f0" stroke-width="0.7" />
<line x1="657.38" y1="267.90" x2="657.38" y2="272.10" stroke="#7070f0" stroke-width="0.7" />
<line x1="661.93" y1="267.90" x2="661.93" y2="272.10" stroke="#7070f0" stroke-width="0.7" />
<line x1="666.48" y1="267.90" x2="666.48" y2="272.10" stroke="#5050e8" stroke-width="0.7" />
<line x1="671.03" y1="267.90" x2="671.03" y2="272.10" stroke="#7070f0" stroke-width="0.7" />
<line x1="675.58" y1="267.90" x2="675.58" y2="272.10" stroke="#7070f0" stroke-width="0.7" />
<line x1="680.14" y1="267.90" x2="680.14" y2="272.10" stroke="#7070f0" stroke-width="0.7" />
<line x1="684.69" y1="267.90" x2="684.69" y2="272.10" stroke="#7070f0" stroke-width="0.7" />
<line x1="689.24" y1="267.90" x2="689.24" y2="272.10" stroke="#5050e8" stroke-width="0.7" />
<line x1="693.79" y1="267.90" x2="693.79" y2="272.10" stroke="#7070f0" stroke-width="0.7" />
<line x1="698.34" y1="267.90" x2="698.34" y2="272.10" stroke="#7070f0" stroke-width="0.7" />
<line x1="702.90" y1="267.90" x2="702.90" y2="272.10" stroke="#7070f0" stroke-width="0.7" />
<line x1="598.20" y1="277.95" x2="702.90" y2="277.95" stroke="#a0a0f8" stroke-width="0.85" />
<line x1="598.20" y1="275.85" x2="598.20" y2="280.05" stroke="#5050e8" stroke-width="0.7" />
<line x1="602.75" y1="275.85" x2="602.75" y2="280.05" stroke="#7070f0" stroke-width="0.7" />
<line x1="607.30" y1="275.85" x2="607.30" y2="280.05" stroke="#7070f0" stroke-width="0.7" />
<line x1="611.86" y1="275.85" x2="611.86" y2="280.05" stroke="#7070f0" stroke-width="0.7" />
<line x1="616.41" y1="275.85" x2="616.41" y2="280.05" stroke="#7070f0" stroke-width="0.7" />
<line x1="620.96" y1="275.85" x2="620.96" y2="280.05" stroke="#5050e8" stroke-width="0.7" />
<line x1="625.51" y1="275.85" x2="625.51" y2="280.05" stroke="#7070f0" stroke-width="0.7" />
<line x1="630.06" y1="275.85" x2="630.06" y2="280.05" stroke="#7070f0" stroke-width="0.7" />
<line x1="634.62" y1="275.85" x2="634.62" y2="280.05" stroke="#7070f0" stroke-width="0.7" />
<line x1="639.17" y1="275.85" x2="639.17" y2="280.05" stroke="#7070f0" stroke-width="0.7" />
<line x1="643.72" y1="275.85" x2="643.72" y2="280.05" stroke="#5050e8" stroke-width="0.7" />
<line x1="648.27" y1="275.85" x2="648.27" y2="280.05" stroke="#7070f0" stroke-width="0.7" />
<line x1="652.82" y1="275.85" x2="652.82" y2="280.05" stroke="#7070f0" stroke-width="0.7" />
<line x1="657.38" y1="275.85" x2="657.38" y2="280.05" stroke="#7070f0" stroke-width="0.7" />
<line x1="661.93" y1="275.85" x2="661.93" y2="280.05" stroke="#7070f0" stroke-width="0.7" />
<line x1="666.48" y1="275.85" x2="666.48" y2="280.05" stroke="#5050e8" stroke-width="0.7" />
<line x1="671.03" y1="275.85" x2="671.03" y2="280.05" stroke="#7070f0" stroke-width="0.7" />
<line x1="675.58" y1="275.85" x2="675.58" y2="280.05" stroke="#7070f0" stroke-width="0.7" />
<line x1="680.14" y1="275.85" x2="680.14" y2="280.05" stroke="#7070f0" stroke-width="0.7" />
<line x1="684.69" y1="275.85" x2="684.69" y2="280.05" stroke="#7070f0" stroke-width="0.7" />
<line x1="689.24" y1="275.85" x2="689.24" y2="280.05" stroke="#5050e8" stroke-width="0.7" />
<line x1="693.79" y1="275.85" x2="693.79" y2="280.05" stroke="#7070f0" stroke-width="0.7" />
<line x1="698.34" y1="275.85" x2="698.34" y2="280.05" stroke="#7070f0" stroke-width="0.7" />
<line x1="702.90" y1="275.85" x2="702.90" y2="280.05" stroke="#7070f0" stroke-width="0.7" />
<line x1="598.20" y1="285.90" x2="702.90" y2="285.90" stroke="#a0a0f8" stroke-width="0.85" />
<line x1="598.20" y1="283.80" x2="598.20" y2="288.00" stroke="#5050e8" stroke-width="0.7" />
<line x1="602.75" y1="283.80" x2="602.75" y2="288.00" stroke="#7070f0" stroke-width="0.7" />
<line x1="607.30" y1="283.80" x2="607.30" y2="288.00" stroke="#7070f0" stroke-width="0.7" />
<line x1="611.86" y1="283.80" x2="611.86" y2="288.00" stroke="#7070f0" stroke-width="0.7" />
<line x1="616.41" y1="283.80" x2="616.41" y2="288.00" stroke="#7070f0" stroke-width="0.7" />
<line x1="620.96" y1="283.80" x2="620.96" y2="288.00" stroke="#5050e8" stroke-width="0.7" />
<line x1="625.51" y1="283.80" x2="625.51" y2="288.00" stroke="#7070f0" stroke-width="0.7" />
<line x1="630.06" y1="283.80" x2="630.06" y2="288.00" stroke="#7070f0" stroke-width="0.7" />
<line x1="634.62" y1="283.80" x2="634.62" y2="288.00" stroke="#7070f0" stroke-width="0.7" />
<line x1="639.17" y1="283.80" x2="639.17" y2="288.00" stroke="#7070f0" stroke-width="0.7" />
<line x1="643.72" y1="283.80" x2="643.72" y2="288.00" stroke="#5050e8" stroke-width="0.7" />
<line x1="648.27" y1="283.80" x2="648.27" y2="288.00" stroke="#7070f0" stroke-width="0.7" />
<line x1="652.82" y1="283.80" x2="652.82" y2="288.00" stroke="#7070f0" stroke-width="0.7" />
<line x1="657.38" y1="283.80" x2="657.38" y2="288.00" stroke="#7070f0" stroke-width="0.7" />
<line x1="661.93" y1="283.80" x2="661.93" y2="288.00" stroke="#7070f0" stroke-width="0.7" />
<line x1="666.48" y1="283.80" x2="666.48" y2="288.00" stroke="#5050e8" stroke-width="0.7" />
<line x1="671.03" y1="283.80" x2="671.03" y2="288.00" stroke="#7070f0" stroke-width="0.7" />
<line x1="675.58" y1="283.80" x2="675.58" y2="288.00" stroke="#7070f0" stroke-width="0.7" />
<line x1="680.14" y1="283.80" x2="680.14" y2="288.00" stroke="#7070f0" stroke-width="0.7" />
<line x1="684.69" y1="283.80" x2="684.69" y2="288.00" stroke="#7070f0" stroke-width="0.7" />
<line x1="689.24" y1="283.80" x2="689.24" y2="288.00" stroke="#5050e8" stroke-width="0.7" />
<line x1="693.79" y1="283.80" x2="693.79" y2="288.00" stroke="#7070f0" stroke-width="0.7" />
<line x1="698.34" y1="283.80" x2="698.34" y2="288.00" stroke="#7070f0" stroke-width="0.7" />
<line x1="702.90" y1="283.80" x2="702.90" y2="288.00" stroke="#7070f0" stroke-width="0.7" />
<line x1="598.20" y1="293.85" x2="702.90" y2="293.85" stroke="#a0a0f8" stroke-width="0.85" />
<line x1="598.20" y1="291.75" x2="598.20" y2="295.95" stroke="#5050e8" stroke-width="0.7" />
<line x1="602.75" y1="291.75" x2="602.75" y2="295.95" stroke="#7070f0" stroke-width="0.7" />
<line x1="607.30" y1="291.75" x2="607.30" y2="295.95" stroke="#7070f0" stroke-width="0.7" />
<line x1="611.86" y1="291.75" x2="611.86" y2="295.95" stroke="#7070f0" stroke-width="0.7" />
<line x1="616.41" y1="291.75" x2="616.41" y2="295.95" stroke="#7070f0" stroke-width="0.7" />
<line x1="620.96" y1="291.75" x2="620.96" y2="295.95" stroke="#5050e8" stroke-width="0.7" />
<line x1="625.51" y1="291.75" x2="625.51" y2="295.95" stroke="#7070f0" stroke-width="0.7" />
<line x1="630.06" y1="291.75" x2="630.06" y2="295.95" stroke="#7070f0" stroke-width="0.7" />
<line x1="634.62" y1="291.75" x2="634.62" y2="295.95" stroke="#7070f0" stroke-width="0.7" />
<line x1="639.17" y1="291.75" x2="639.17" y2="295.95" stroke="#7070f0" stroke-width="0.7" />
<line x1="643.72" y1="291.75" x2="643.72" y2="295.95" stroke="#5050e8" stroke-width="0.7" />
<line x1="648.27" y1="291.75" x2="648.27" y2="295.95" stroke="#7070f0" stroke-width="0.7" />
<line x1="652.82" y1="291.75" x2="652.82" y2="295.95" stroke="#7070f0" stroke-width="0.7" />
<line x1="657.38" y1="291.75" x2="657.38" y2="295.95" stroke="#7070f0" stroke-width="0.7" />
<line x1="661.93" y1="291.75" x2="661.93" y2="295.95" stroke="#7070f0" stroke-width="0.7" />
<line x1="666.48" y1="291.75" x2="666.48" y2="295.95" stroke="#5050e8" stroke-width="0.7" />
<line x1="671.03" y1="291.75" x2="671.03" y2="295.95" stroke="#7070f0" stroke-width="0.7" />
<line x1="675.58" y1="291.75" x2="675.58" y2="295.95" stroke="#7070f0" stroke-width="0.7" />
<line x1="680.14" y1="291.75" x2="680.14" y2="295.95" stroke="#7070f0" stroke-width="0.7" />
<line x1="684.69" y1="291.75" x2="684.69" y2="295.95" stroke="#7070f0" stroke-width="0.7" />
<line x1="689.24" y1="291.75" x2="689.24" y2="295.95" stroke="#5050e8" stroke-width="0.7" />
<line x1="693.79" y1="291.75" x2="693.79" y2="295.95" stroke="#7070f0" stroke-width="0.7" />
<line x1="698.34" y1="291.75" x2="698.34" y2="295.95" stroke="#7070f0" stroke-width="0.7" />
<line x1="702.90" y1="291.75" x2="702.90" y2="295.95" stroke="#7070f0" stroke-width="0.7" />
<line x1="598.20" y1="301.80" x2="702.90" y2="301.80" stroke="#a0a0f8" stroke-width="0.85" />
<line x1="598.20" y1="299.70" x2="598.20" y2="303.90" stroke="#5050e8" stroke-width="0.7" />
<line x1="602.75" y1="299.70" x2="602.75" y2="303.90" stroke="#7070f0" stroke-width="0.7" />
<line x1="607.30" y1="299.70" x2="607.30" y2="303.90" stroke="#7070f0" stroke-width="0.7" />
<line x1="611.86" y1="299.70" x2="611.86" y2="303.90" stroke="#7070f0" stroke-width="0.7" />
<line x1="616.41" y1="299.70" x2="616.41" y2="303.90" stroke="#7070f0" stroke-width="0.7" />
<line x1="620.96" y1="299.70" x2="620.96" y2="303.90" stroke="#5050e8" stroke-width="0.7" />
<line x1="625.51" y1="299.70" x2="625.51" y2="303.90" stroke="#7070f0" stroke-width="0.7" />
<line x1="630.06" y1="299.70" x2="630.06" y2="303.90" stroke="#7070f0" stroke-width="0.7" />
<line x1="634.62" y1="299.70" x2="634.62" y2="303.90" stroke="#7070f0" stroke-width="0.7" />
<line x1="639.17" y1="299.70" x2="639.17" y2="303.90" stroke="#7070f0" stroke-width="0.7" />
<line x1="643.72" y1="299.70" x2="643.72" y2="303.90" stroke="#5050e8" stroke-width="0.7" />
<line x1="648.27" y1="299.70" x2="648.27" y2="303.90" stroke="#7070f0" stroke-width="0.7" />
<line x1="652.82" y1="299.70" x2="652.82" y2="303.90" stroke="#7070f0" stroke-width="0.7" />
<line x1="657.38" y1="299.70" x2="657.38" y2="303.90" stroke="#7070f0" stroke-width="0.7" />
<line x1="661.93" y1="299.70" x2="661.93" y2="303.90" stroke="#7070f0" stroke-width="0.7" />
<line x1="666.48" y1="299.70" x2="666.48" y2="303.90" stroke="#5050e8" stroke-width="0.7" />
<line x1="671.03" y1="299.70" x2="671.03" y2="303.90" stroke="#7070f0" stroke-width="0.7" />
<line x1="675.58" y1="299.70" x2="675.58" y2="303.90" stroke="#7070f0" stroke-width="0.7" />
<line x1="680.14" y1="299.70" x2="680.14" y2="303.90" stroke="#7070f0" stroke-width="0.7" />
<line x1="684.69" y1="299.70" x2="684.69" y2="303.90" stroke="#7070f0" stroke-width="0.7" />
<line x1="689.24" y1="299.70" x2="689.24" y2="303.90" stroke="#5050e8" stroke-width="0.7" />
<line x1="693.79" y1="299.70" x2="693.79" y2="303.90" stroke="#7070f0" stroke-width="0.7" />
<line x1="698.34" y1="299.70" x2="698.34" y2="303.90" stroke="#7070f0" stroke-width="0.7" />
<line x1="702.90" y1="299.70" x2="702.90" y2="303.90" stroke="#7070f0" stroke-width="0.7" />
<line x1="598.20" y1="309.75" x2="702.90" y2="309.75" stroke="#a0a0f8" stroke-width="0.85" />
<line x1="598.20" y1="307.65" x2="598.20" y2="311.85" stroke="#5050e8" stroke-width="0.7" />
<line x1="602.75" y1="307.65" x2="602.75" y2="311.85" stroke="#7070f0" stroke-width="0.7" />
<line x1="607.30" y1="307.65" x2="607.30" y2="311.85" stroke="#7070f0" stroke-width="0.7" />
<line x1="611.86" y1="307.65" x2="611.86" y2="311.85" stroke="#7070f0" stroke-width="0.7" />
<line x1="616.41" y1="307.65" x2="616.41" y2="311.85" stroke="#7070f0" stroke-width="0.7" />
<line x1="620.96" y1="307.65" x2="620.96" y2="311.85" stroke="#5050e8" stroke-width="0.7" />
<line x1="625.51" y1="307.65" x2="625.51" y2="311.85" stroke="#7070f0" stroke-width="0.7" />
<line x1="630.06" y1="307.65" x2="630.06" y2="311.85" stroke="#7070f0" stroke-width="0.7" />
<line x1="634.62" y1="307.65" x2="634.62" y2="311.85" stroke="#7070f0" stroke-width="0.7" />
<line x1="639.17" y1="307.65" x2="639.17" y2="311.85" stroke="#7070f0" stroke-width="0.7" />
<line x1="643.72" y1="307.65" x2="643.72" y2="311.85" stroke="#5050e8" stroke-width="0.7" />
<line x1="648.27" y1="307.65" x2="648.27" y2="311.85" stroke="#7070f0" stroke-width="0.7" />
<line x1="652.82" y1="307.65" x2="652.82" y2="311.85" stroke="#7070f0" stroke-width="0.7" />
<line x1="657.38" y1="307.65" x2="657.38" y2="311.85" stroke="#7070f0" stroke-width="0.7" />
<line x1="661.93" y1="307.65" x2="661.93" y2="311.85" stroke="#7070f0" stroke-width="0.7" />
<line x1="666.48" y1="307.65" x2="666.48" y2="311.85" stroke="#5050e8" stroke-width="0.7" />
<line x1="671.03" y1="307.65" x2="671.03" y2="311.85" stroke="#7070f0" stroke-width="0.7" />
<line x1="675.58" y1="307.65" x2="675.58" y2="311.85" stroke="#7070f0" stroke-width="0.7" />
<line x1="680.14" y1="307.65" x2="680.14" y2="311.85" stroke="#7070f0" stroke-width="0.7" />
<line x1="684.69" y1="307.65" x2="684.69" y2="311.85" stroke="#7070f0" stroke-width="0.7" />
<line x1="689.24" y1="307.65" x2="689.24" y2="311.85" stroke="#5050e8" stroke-width="0.7" />
<line x1="693.79" y1="307.65" x2="693.79" y2="311.85" stroke="#7070f0" stroke-width="0.7" />
<line x1="698.34" y1="307.65" x2="698.34" y2="311.85" stroke="#7070f0" stroke-width="0.7" />
<line x1="702.90" y1="307.65" x2="702.90" y2="311.85" stroke="#7070f0" stroke-width="0.7" />
<line x1="598.20" y1="317.70" x2="702.90" y2="317.70" stroke="#a0a0f8" stroke-width="0.85" />
<line x1="598.20" y1="315.60" x2="598.20" y2="319.80" stroke="#5050e8" stroke-width="0.7" />
<line x1="602.75" y1="315.60" x2="602.75" y2="319.80" stroke="#7070f0" stroke-width="0.7" />
<line x1="607.30" y1="315.60" x2="607.30" y2="319.80" stroke="#7070f0" stroke-width="0.7" />
<line x1="611.86" y1="315.60" x2="611.86" y2="319.80" stroke="#7070f0" stroke-width="0.7" />
<line x1="616.41" y1="315.60" x2="616.41" y2="319.80" stroke="#7070f0" stroke-width="0.7" />
<line x1="620.96" y1="315.60" x2="620.96" y2="319.80" stroke="#5050e8" stroke-width="0.7" />
<line x1="625.51" y1="315.60" x2="625.51" y2="319.80" stroke="#7070f0" stroke-width="0.7" />
<line x1="630.06" y1="315.60" x2="630.06" y2="319.80" stroke="#7070f0" stroke-width="0.7" />
<line x1="634.62" y1="315.60" x2="634.62" y2="319.80" stroke="#7070f0" stroke-width="0.7" />
<line x1="639.17" y1="315.60" x2="639.17" y2="319.80" stroke="#7070f0" stroke-width="0.7" />
<line x1="643.72" y1="315.60" x2="643.72" y2="319.80" stroke="#5050e8" stroke-width="0.7" />
<line x1="648.27" y1="315.60" x2="648.27" y2="319.80" stroke="#7070f0" stroke-width="0.7" />
<line x1="652.82" y1="315.60" x2="652.82" y2="319.80" stroke="#7070f0" stroke-width="0.7" />
<line x1="657.38" y1="315.60" x2="657.38" y2="319.80" stroke="#7070f0" stroke-width="0.7" />
<line x1="661.93" y1="315.60" x2="661.93" y2="319.80" stroke="#7070f0" stroke-width="0.7" />
<line x1="666.48" y1="315.60" x2="666.48" y2="319.80" stroke="#5050e8" stroke-width="0.7" />
<line x1="671.03" y1="315.60" x2="671.03" y2="319.80" stroke="#7070f0" stroke-width="0.7" />
<line x1="675.58" y1="315.60" x2="675.58" y2="319.80" stroke="#7070f0" stroke-width="0.7" />
<line x1="680.14" y1="315.60" x2="680.14" y2="319.80" stroke="#7070f0" stroke-width="0.7" />
<line x1="684.69" y1="315.60" x2="684.69" y2="319.80" stroke="#7070f0" stroke-width="0.7" />
<line x1="689.24" y1="315.60" x2="689.24" y2="319.80" stroke="#5050e8" stroke-width="0.7" />
<line x1="693.79" y1="315.60" x2="693.79" y2="319.80" stroke="#7070f0" stroke-width="0.7" />
<line x1="698.34" y1="315.60" x2="698.34" y2="319.80" stroke="#7070f0" stroke-width="0.7" />
<line x1="702.90" y1="315.60" x2="702.90" y2="319.80" stroke="#7070f0" stroke-width="0.7" />
<line x1="598.20" y1="325.65" x2="702.90" y2="325.65" stroke="#a0a0f8" stroke-width="0.85" />
<line x1="598.20" y1="323.55" x2="598.20" y2="327.75" stroke="#5050e8" stroke-width="0.7" />
<line x1="602.75" y1="323.55" x2="602.75" y2="327.75" stroke="#7070f0" stroke-width="0.7" />
<line x1="607.30" y1="323.55" x2="607.30" y2="327.75" stroke="#7070f0" stroke-width="0.7" />
<line x1="611.86" y1="323.55" x2="611.86" y2="327.75" stroke="#7070f0" stroke-width="0.7" />
<line x1="616.41" y1="323.55" x2="616.41" y2="327.75" stroke="#7070f0" stroke-width="0.7" />
<line x1="620.96" y1="323.55" x2="620.96" y2="327.75" stroke="#5050e8" stroke-width="0.7" />
<line x1="625.51" y1="323.55" x2="625.51" y2="327.75" stroke="#7070f0" stroke-width="0.7" />
<line x1="630.06" y1="323.55" x2="630.06" y2="327.75" stroke="#7070f0" stroke-width="0.7" />
<line x1="634.62" y1="323.55" x2="634.62" y2="327.75" stroke="#7070f0" stroke-width="0.7" />
<line x1="639.17" y1="323.55" x2="639.17" y2="327.75" stroke="#7070f0" stroke-width="0.7" />
<line x1="643.72" y1="323.55" x2="643.72" y2="327.75" stroke="#5050e8" stroke-width="0.7" />
<line x1="648.27" y1="323.55" x2="648.27" y2="327.75" stroke="#7070f0" stroke-width="0.7" />
<line x1="652.82" y1="323.55" x2="652.82" y2="327.75" stroke="#7070f0" stroke-width="0.7" />
<line x1="657.38" y1="323.55" x2="657.38" y2="327.75" stroke="#7070f0" stroke-width="0.7" />
<line x1="661.93" y1="323.55" x2="661.93" y2="327.75" stroke="#7070f0" stroke-width="0.7" />
<line x1="666.48" y1="323.55" x2="666.48" y2="327.75" stroke="#5050e8" stroke-width="0.7" />
<line x1="671.03" y1="323.55" x2="671.03" y2="327.75" stroke="#7070f0" stroke-width="0.7" />
<line x1="675.58" y1="323.55" x2="675.58" y2="327.75" stroke="#7070f0" stroke-width="0.7" />
<line x1="680.14" y1="323.55" x2="680.14" y2="327.75" stroke="#7070f0" stroke-width="0.7" />
<line x1="684.69" y1="323.55" x2="684.69" y2="327.75" stroke="#7070f0" stroke-width="0.7" />
<line x1="689.24" y1="323.55" x2="689.24" y2="327.75" stroke="#5050e8" stroke-width="0.7" />
<line x1="693.79" y1="323.55" x2="693.79" y2="327.75" stroke="#7070f0" stroke-width="0.7" />
<line x1="698.34" y1="323.55" x2="698.34" y2="327.75" stroke="#7070f0" stroke-width="0.7" />
<line x1="702.90" y1="323.55" x2="702.90" y2="327.75" stroke="#7070f0" stroke-width="0.7" />
<line x1="598.20" y1="333.60" x2="702.90" y2="333.60" stroke="#a0a0f8" stroke-width="0.85" />
<line x1="598.20" y1="331.50" x2="598.20" y2="335.70" stroke="#5050e8" stroke-width="0.7" />
<line x1="602.75" y1="331.50" x2="602.75" y2="335.70" stroke="#7070f0" stroke-width="0.7" />
<line x1="607.30" y1="331.50" x2="607.30" y2="335.70" stroke="#7070f0" stroke-width="0.7" />
<line x1="611.86" y1="331.50" x2="611.86" y2="335.70" stroke="#7070f0" stroke-width="0.7" />
<line x1="616.41" y1="331.50" x2="616.41" y2="335.70" stroke="#7070f0" stroke-width="0.7" />
<line x1="620.96" y1="331.50" x2="620.96" y2="335.70" stroke="#5050e8" stroke-width="0.7" />
<line x1="625.51" y1="331.50" x2="625.51" y2="335.70" stroke="#7070f0" stroke-width="0.7" />
<line x1="630.06" y1="331.50" x2="630.06" y2="335.70" stroke="#7070f0" stroke-width="0.7" />
<line x1="634.62" y1="331.50" x2="634.62" y2="335.70" stroke="#7070f0" stroke-width="0.7" />
<line x1="639.17" y1="331.50" x2="639.17" y2="335.70" stroke="#7070f0" stroke-width="0.7" />
<line x1="643.72" y1="331.50" x2="643.72" y2="335.70" stroke="#5050e8" stroke-width="0.7" />
<line x1="648.27" y1="331.50" x2="648.27" y2="335.70" stroke="#7070f0" stroke-width="0.7" />
<line x1="652.82" y1="331.50" x2="652.82" y2="335.70" stroke="#7070f0" stroke-width="0.7" />
<line x1="657.38" y1="331.50" x2="657.38" y2="335.70" stroke="#7070f0" stroke-width="0.7" />
<line x1="661.93" y1="331.50" x2="661.93" y2="335.70" stroke="#7070f0" stroke-width="0.7" />
<line x1="666.48" y1="331.50" x2="666.48" y2="335.70" stroke="#5050e8" stroke-width="0.7" />
<line x1="671.03" y1="331.50" x2="671.03" y2="335.70" stroke="#7070f0" stroke-width="0.7" />
<line x1="675.58" y1="331.50" x2="675.58" y2="335.70" stroke="#7070f0" stroke-width="0.7" />
<line x1="680.14" y1="331.50" x2="680.14" y2="335.70" stroke="#7070f0" stroke-width="0.7" />
<line x1="684.69" y1="331.50" x2="684.69" y2="335.70" stroke="#7070f0" stroke-width="0.7" />
<line x1="689.24" y1="331.50" x2="689.24" y2="335.70" stroke="#5050e8" stroke-width="0.7" />
<line x1="693.79" y1="331.50" x2="693.79" y2="335.70" stroke="#7070f0" stroke-width="0.7" />
<line x1="698.34" y1="331.50" x2="698.34" y2="335.70" stroke="#7070f0" stroke-width="0.7" />
<line x1="702.90" y1="331.50" x2="702.90" y2="335.70" stroke="#7070f0" stroke-width="0.7" />
<line x1="598.20" y1="341.55" x2="702.90" y2="341.55" stroke="#a0a0f8" stroke-width="0.85" />
<line x1="598.20" y1="339.45" x2="598.20" y2="343.65" stroke="#5050e8" stroke-width="0.7" />
<line x1="602.75" y1="339.45" x2="602.75" y2="343.65" stroke="#7070f0" stroke-width="0.7" />
<line x1="607.30" y1="339.45" x2="607.30" y2="343.65" stroke="#7070f0" stroke-width="0.7" />
<line x1="611.86" y1="339.45" x2="611.86" y2="343.65" stroke="#7070f0" stroke-width="0.7" />
<line x1="616.41" y1="339.45" x2="616.41" y2="343.65" stroke="#7070f0" stroke-width="0.7" />
<line x1="620.96" y1="339.45" x2="620.96" y2="343.65" stroke="#5050e8" stroke-width="0.7" />
<line x1="625.51" y1="339.45" x2="625.51" y2="343.65" stroke="#7070f0" stroke-width="0.7" />
<line x1="630.06" y1="339.45" x2="630.06" y2="343.65" stroke="#7070f0" stroke-width="0.7" />
<line x1="634.62" y1="339.45" x2="634.62" y2="343.65" stroke="#7070f0" stroke-width="0.7" />
<line x1="639.17" y1="339.45" x2="639.17" y2="343.65" stroke="#7070f0" stroke-width="0.7" />
<line x1="643.72" y1="339.45" x2="643.72" y2="343.65" stroke="#5050e8" stroke-width="0.7" />
<line x1="648.27" y1="339.45" x2="648.27" y2="343.65" stroke="#7070f0" stroke-width="0.7" />
<line x1="652.82" y1="339.45" x2="652.82" y2="343.65" stroke="#7070f0" stroke-width="0.7" />
<line x1="657.38" y1="339.45" x2="657.38" y2="343.65" stroke="#7070f0" stroke-width="0.7" />
<line x1="661.93" y1="339.45" x2="661.93" y2="343.65" stroke="#7070f0" stroke-width="0.7" />
<line x1="666.48" y1="339.45" x2="666.48" y2="343.65" stroke="#5050e8" stroke-width="0.7" />
<line x1="671.03" y1="339.45" x2="671.03" y2="343.65" stroke="#7070f0" stroke-width="0.7" />
<line x1="675.58" y1="339.45" x2="675.58" y2="343.65" stroke="#7070f0" stroke-width="0.7" />
<line x1="680.14" y1="339.45" x2="680.14" y2="343.65" stroke="#7070f0" stroke-width="0.7" />
<line x1="684.69" y1="339.45" x2="684.69" y2="343.65" stroke="#7070f0" stroke-width="0.7" />
<line x1="689.24" y1="339.45" x2="689.24" y2="343.65" stroke="#5050e8" stroke-width="0.7" />
<line x1="693.79" y1="339.45" x2="693.79" y2="343.65" stroke="#7070f0" stroke-width="0.7" />
<line x1="698.34" y1="339.45" x2="698.34" y2="343.65" stroke="#7070f0" stroke-width="0.7" />
<line x1="702.90" y1="339.45" x2="702.90" y2="343.65" stroke="#7070f0" stroke-width="0.7" />
<line x1="598.20" y1="349.50" x2="702.90" y2="349.50" stroke="#a0a0f8" stroke-width="0.85" />
<line x1="598.20" y1="347.40" x2="598.20" y2="351.60" stroke="#5050e8" stroke-width="0.7" />
<line x1="602.75" y1="347.40" x2="602.75" y2="351.60" stroke="#7070f0" stroke-width="0.7" />
<line x1="607.30" y1="347.40" x2="607.30" y2="351.60" stroke="#7070f0" stroke-width="0.7" />
<line x1="611.86" y1="347.40" x2="611.86" y2="351.60" stroke="#7070f0" stroke-width="0.7" />
<line x1="616.41" y1="347.40" x2="616.41" y2="351.60" stroke="#7070f0" stroke-width="0.7" />
<line x1="620.96" y1="347.40" x2="620.96" y2="351.60" stroke="#5050e8" stroke-width="0.7" />
<line x1="625.51" y1="347.40" x2="625.51" y2="351.60" stroke="#7070f0" stroke-width="0.7" />
<line x1="630.06" y1="347.40" x2="630.06" y2="351.60" stroke="#7070f0" stroke-width="0.7" />
<line x1="634.62" y1="347.40" x2="634.62" y2="351.60" stroke="#7070f0" stroke-width="0.7" />
<line x1="639.17" y1="347.40" x2="639.17" y2="351.60" stroke="#7070f0" stroke-width="0.7" />
<line x1="643.72" y1="347.40" x2="643.72" y2="351.60" stroke="#5050e8" stroke-width="0.7" />
<line x1="648.27" y1="347.40" x2="648.27" y2="351.60" stroke="#7070f0" stroke-width="0.7" />
<line x1="652.82" y1="347.40" x2="652.82" y2="351.60" stroke="#7070f0" stroke-width="0.7" />
<line x1="657.38" y1="347.40" x2="657.38" y2="351.60" stroke="#7070f0" stroke-width="0.7" />
<line x1="661.93" y1="347.40" x2="661.93" y2="351.60" stroke="#7070f0" stroke-width="0.7" />
<line x1="666.48" y1="347.40" x2="666.48" y2="351.60" stroke="#5050e8" stroke-width="0.7" />
<line x1="671.03" y1="347.40" x2="671.03" y2="351.60" stroke="#7070f0" stroke-width="0.7" />
<line x1="675.58" y1="347.40" x2="675.58" y2="351.60" stroke="#7070f0" stroke-width="0.7" />
<line x1="680.14" y1="347.40" x2="680.14" y2="351.60" stroke="#7070f0" stroke-width="0.7" />
<line x1="684.69" y1="347.40" x2="684.69" y2="351.60" stroke="#7070f0" stroke-width="0.7" />
<line x1="689.24" y1="347.40" x2="689.24" y2="351.60" stroke="#5050e8" stroke-width="0.7" />
<line x1="693.79" y1="347.40" x2="693.79" y2="351.60" stroke="#7070f0" stroke-width="0.7" />
<line x1="698.34" y1="347.40" x2="698.34" y2="351.60" stroke="#7070f0" stroke-width="0.7" />
<line x1="702.90" y1="347.40" x2="702.90" y2="351.60" stroke="#7070f0" stroke-width="0.7" />
<line x1="598.20" y1="357.45" x2="702.90" y2="357.45" stroke="#a0a0f8" stroke-width="0.85" />
<line x1="598.20" y1="355.35" x2="598.20" y2="359.55" stroke="#5050e8" stroke-width="0.7" />
<line x1="602.75" y1="355.35" x2="602.75" y2="359.55" stroke="#7070f0" stroke-width="0.7" />
<line x1="607.30" y1="355.35" x2="607.30" y2="359.55" stroke="#7070f0" stroke-width="0.7" />
<line x1="611.86" y1="355.35" x2="611.86" y2="359.55" stroke="#7070f0" stroke-width="0.7" />
<line x1="616.41" y1="355.35" x2="616.41" y2="359.55" stroke="#7070f0" stroke-width="0.7" />
<line x1="620.96" y1="355.35" x2="620.96" y2="359.55" stroke="#5050e8" stroke-width="0.7" />
<line x1="625.51" y1="355.35" x2="625.51" y2="359.55" stroke="#7070f0" stroke-width="0.7" />
<line x1="630.06" y1="355.35" x2="630.06" y2="359.55" stroke="#7070f0" stroke-width="0.7" />
<line x1="634.62" y1="355.35" x2="634.62" y2="359.55" stroke="#7070f0" stroke-width="0.7" />
<line x1="639.17" y1="355.35" x2="639.17" y2="359.55" stroke="#7070f0" stroke-width="0.7" />
<line x1="643.72" y1="355.35" x2="643.72" y2="359.55" stroke="#5050e8" stroke-width="0.7" />
<line x1="648.27" y1="355.35" x2="648.27" y2="359.55" stroke="#7070f0" stroke-width="0.7" />
<line x1="652.82" y1="355.35" x2="652.82" y2="359.55" stroke="#7070f0" stroke-width="0.7" />
<line x1="657.38" y1="355.35" x2="657.38" y2="359.55" stroke="#7070f0" stroke-width="0.7" />
<line x1="661.93" y1="355.35" x2="661.93" y2="359.55" stroke="#7070f0" stroke-width="0.7" />
<line x1="666.48" y1="355.35" x2="666.48" y2="359.55" stroke="#5050e8" stroke-width="0.7" />
<line x1="671.03" y1="355.35" x2="671.03" y2="359.55" stroke="#7070f0" stroke-width="0.7" />
<line x1="675.58" y1="355.35" x2="675.58" y2="359.55" stroke="#7070f0" stroke-width="0.7" />
<line x1="680.14" y1="355.35" x2="680.14" y2="359.55" stroke="#7070f0" stroke-width="0.7" />
<line x1="684.69" y1="355.35" x2="684.69" y2="359.55" stroke="#7070f0" stroke-width="0.7" />
<line x1="689.24" y1="355.35" x2="689.24" y2="359.55" stroke="#5050e8" stroke-width="0.7" />
<line x1="693.79" y1="355.35" x2="693.79" y2="359.55" stroke="#7070f0" stroke-width="0.7" />
<line x1="698.34" y1="355.35" x2="698.34" y2="359.55" stroke="#7070f0" stroke-width="0.7" />
<line x1="702.90" y1="355.35" x2="702.90" y2="359.55" stroke="#7070f0" stroke-width="0.7" />
<line x1="598.20" y1="365.40" x2="702.90" y2="365.40" stroke="#a0a0f8" stroke-width="0.85" />
<line x1="598.20" y1="363.30" x2="598.20" y2="367.50" stroke="#5050e8" stroke-width="0.7" />
<line x1="602.75" y1="363.30" x2="602.75" y2="367.50" stroke="#7070f0" stroke-width="0.7" />
<line x1="607.30" y1="363.30" x2="607.30" y2="367.50" stroke="#7070f0" stroke-width="0.7" />
<line x1="611.86" y1="363.30" x2="611.86" y2="367.50" stroke="#7070f0" stroke-width="0.7" />
<line x1="616.41" y1="363.30" x2="616.41" y2="367.50" stroke="#7070f0" stroke-width="0.7" />
<line x1="620.96" y1="363.30" x2="620.96" y2="367.50" stroke="#5050e8" stroke-width="0.7" />
<line x1="625.51" y1="363.30" x2="625.51" y2="367.50" stroke="#7070f0" stroke-width="0.7" />
<line x1="630.06" y1="363.30" x2="630.06" y2="367.50" stroke="#7070f0" stroke-width="0.7" />
<line x1="634.62" y1="363.30" x2="634.62" y2="367.50" stroke="#7070f0" stroke-width="0.7" />
<line x1="639.17" y1="363.30" x2="639.17" y2="367.50" stroke="#7070f0" stroke-width="0.7" />
<line x1="643.72" y1="363.30" x2="643.72" y2="367.50" stroke="#5050e8" stroke-width="0.7" />
<line x1="648.27" y1="363.30" x2="648.27" y2="367.50" stroke="#7070f0" stroke-width="0.7" />
<line x1="652.82" y1="363.30" x2="652.82" y2="367.50" stroke="#7070f0" stroke-width="0.7" />
<line x1="657.38" y1="363.30" x2="657.38" y2="367.50" stroke="#7070f0" stroke-width="0.7" />
<line x1="661.93" y1="363.30" x2="661.93" y2="367.50" stroke="#7070f0" stroke-width="0.7" />
<line x1="666.48" y1="363.30" x2="666.48" y2="367.50" stroke="#5050e8" stroke-width="0.7" />
<line x1="671.03" y1="363.30" x2="671.03" y2="367.50" stroke="#7070f0" stroke-width="0.7" />
<line x1="675.58" y1="363.30" x2="675.58" y2="367.50" stroke="#7070f0" stroke-width="0.7" />
<line x1="680.14" y1="363.30" x2="680.14" y2="367.50" stroke="#7070f0" stroke-width="0.7" />
<line x1="684.69" y1="363.30" x2="684.69" y2="367.50" stroke="#7070f0" stroke-width="0.7" />
<line x1="689.24" y1="363.30" x2="689.24" y2="367.50" stroke="#5050e8" stroke-width="0.7" />
<line x1="693.79" y1="363.30" x2="693.79" y2="367.50" stroke="#7070f0" stroke-width="0.7" />
<line x1="698.34" y1="363.30" x2="698.34" y2="367.50" stroke="#7070f0" stroke-width="0.7" />
<line x1="702.90" y1="363.30" x2="702.90" y2="367.50" stroke="#7070f0" stroke-width="0.7" />
<line x1="594.80" y1="375.30" x2="707.00" y2="375.30" stroke="#111" stroke-width="1.3" />
<line x1="594.80" y1="387.00" x2="707.00" y2="387.00" stroke="#111" stroke-width="1.3" />
<rect x="583.50" y="402.60" width="135.50" height="11.00" stroke="#999" stroke-width="0.9" fill="#fff" />
<line x1="583.50" y1="413.60" x2="583.50" y2="454.00" stroke="#666" stroke-width="1.0" />
<line x1="719.00" y1="413.60" x2="719.00" y2="454.00" stroke="#aaa" stroke-width="0.9" />
<line x1="593.80" y1="402.60" x2="593.80" y2="454.00" stroke="#bbb" stroke-width="0.8" />
<line x1="708.00" y1="402.60" x2="708.00" y2="454.00" stroke="#bbb" stroke-width="0.8" />
<rect x="594.40" y="441.50" width="113.60" height="5.40" stroke="#999" stroke-width="0.9" fill="#fff" />
<path d="M596.3 441.3 V434.4 q0 -0.9 0.9 -0.9 H608.5 q0.9 0 0.9 0.9 V441.3" stroke="#888" stroke-width="0.9" fill="none" />
<rect x="653.00" y="402.60" width="8.40" height="11.00" stroke="#bbb" stroke-width="0.7" fill="#fff" />
<rect x="646.70" y="404.30" width="6.30" height="7.60" stroke="#ccc" stroke-width="0.7" fill="none" />
<path d="M647.9 405 l3 3 l-3 3" stroke="#ccc" stroke-width="0.6" fill="none" />
<rect x="652.00" y="416.50" width="10.40" height="5.00" stroke="#aaa" stroke-width="0.7" fill="#fff" />
<rect x="678.30" y="402.60" width="8.40" height="11.00" stroke="#bbb" stroke-width="0.7" fill="#fff" />
<rect x="672.00" y="404.30" width="6.30" height="7.60" stroke="#ccc" stroke-width="0.7" fill="none" />
<path d="M673.2 405 l3 3 l-3 3" stroke="#ccc" stroke-width="0.6" fill="none" />
<rect x="677.30" y="416.50" width="10.40" height="5.00" stroke="#aaa" stroke-width="0.7" fill="#fff" />
<path d="M618.2 376.6 H632 C644 376.6 660.6 389 660.6 402.6" stroke="#777" stroke-width="0.7" fill="none" />
<path d="M618.2 386 H629 C637 386 653.4 394 653.4 402.6" stroke="#777" stroke-width="0.7" fill="none" />
<path d="M618.2 378.2 H632 C643 378.2 659 390 659 402.6" stroke="#ddd" stroke-width="0.7" fill="none" />
<path d="M618.2 384.4 H629.5 C638 384.4 655 393.5 655 402.6" stroke="#ddd" stroke-width="0.7" fill="none" />
<path d="M618.2 376.6 C605 376.6 605 386 618.2 386 Z" stroke="#666" stroke-width="0.8" fill="#fff" />
<line x1="618.20" y1="376.60" x2="618.20" y2="386.00" stroke="#777" stroke-width="0.7" />
<path d="M676 387 C682.5 391 686.5 396.5 686.5 402.6" stroke="#777" stroke-width="0.7" fill="none" />
<path d="M666.5 387 C673 390.5 679 396.5 679 402.6" stroke="#777" stroke-width="0.7" fill="none" />
<path d="M674.6 387 C680.8 391 685 396.5 685 402.6" stroke="#ddd" stroke-width="0.7" fill="none" />
<path d="M668.4 387 C675 391 680.5 396.5 680.5 402.6" stroke="#ddd" stroke-width="0.7" fill="none" />
<path d="M618 381.3 H630 C640 381.3 657 392 657 402.6" stroke="#f00" stroke-width="1.3" fill="none" stroke-dasharray="5.6 0.9"/>
<path d="M673 387 C678.5 391 682.5 396 682.5 402.6" stroke="#f00" stroke-width="1.3" fill="none" stroke-dasharray="5.6 0.9"/>
<circle cx="657.20" cy="431.40" r="9.60" stroke="#111" stroke-width="1.5" fill="#f7cf96" />
<circle cx="657.20" cy="431.40" r="6.30" stroke="#8a98a6" stroke-width="1.0" fill="#fff" />
<line x1="657.20" y1="413.80" x2="657.20" y2="444.00" stroke="#f00" stroke-width="1.2" stroke-dasharray="5.4 0.8"/>
<circle cx="682.50" cy="431.40" r="9.60" stroke="#111" stroke-width="1.5" fill="#f7cf96" />
<circle cx="682.50" cy="431.40" r="6.30" stroke="#8a98a6" stroke-width="1.0" fill="#fff" />
<line x1="682.50" y1="413.80" x2="682.50" y2="444.00" stroke="#f00" stroke-width="1.2" stroke-dasharray="5.4 0.8"/>
<line x1="643.50" y1="431.40" x2="696.00" y2="431.40" stroke="#f00" stroke-width="1.2" stroke-dasharray="5.6 0.8"/>
<rect x="569.40" y="454.60" width="164.60" height="19.80" stroke="none" stroke-width="0" fill="#fafafa" />
<line x1="569.40" y1="454.20" x2="734.00" y2="454.20" stroke="#8c8c8c" stroke-width="1.5" />
<line x1="569.40" y1="475.00" x2="734.00" y2="475.00" stroke="#8c8c8c" stroke-width="1.5" />
<rect x="614.1" y="467.3" width="0.9" height="0.9" fill="#aaa"/>
<rect x="620.5" y="465.7" width="0.9" height="0.9" fill="#aaa"/>
<rect x="635.3" y="459.3" width="0.9" height="0.9" fill="#aaa"/>
<rect x="598.5" y="459.9" width="0.9" height="0.9" fill="#aaa"/>
<rect x="716.1" y="464.7" width="0.9" height="0.9" fill="#aaa"/>
<rect x="607.8" y="471.5" width="0.9" height="0.9" fill="#aaa"/>
<rect x="730.4" y="463.9" width="0.9" height="0.9" fill="#aaa"/>
<rect x="595.1" y="459.7" width="0.9" height="0.9" fill="#aaa"/>
<rect x="587.3" y="462.1" width="0.9" height="0.9" fill="#aaa"/>
<rect x="587.4" y="460.4" width="0.9" height="0.9" fill="#aaa"/>
<rect x="613.8" y="465.9" width="0.9" height="0.9" fill="#aaa"/>
<rect x="713.2" y="468.9" width="0.9" height="0.9" fill="#aaa"/>
<rect x="638.2" y="463.3" width="0.9" height="0.9" fill="#aaa"/>
<rect x="655.8" y="462.7" width="0.9" height="0.9" fill="#aaa"/>
<rect x="626.4" y="457.5" width="0.9" height="0.9" fill="#aaa"/>
<rect x="616.8" y="472.5" width="0.9" height="0.9" fill="#aaa"/>
<rect x="592.9" y="464.8" width="0.9" height="0.9" fill="#aaa"/>
<rect x="672.5" y="470.7" width="0.9" height="0.9" fill="#aaa"/>
<rect x="607.1" y="461.0" width="0.9" height="0.9" fill="#aaa"/>
<rect x="612.3" y="463.1" width="0.9" height="0.9" fill="#aaa"/>
<rect x="643.4" y="472.2" width="0.9" height="0.9" fill="#aaa"/>
<rect x="707.1" y="470.9" width="0.9" height="0.9" fill="#aaa"/>
<rect x="576.4" y="457.0" width="0.9" height="0.9" fill="#aaa"/>
<rect x="685.1" y="471.3" width="0.9" height="0.9" fill="#aaa"/>
<rect x="647.8" y="466.2" width="0.9" height="0.9" fill="#aaa"/>
<rect x="573.0" y="463.0" width="0.9" height="0.9" fill="#aaa"/>
<rect x="719.4" y="470.1" width="0.9" height="0.9" fill="#aaa"/>
<rect x="708.2" y="472.5" width="0.9" height="0.9" fill="#aaa"/>
<rect x="612.3" y="458.3" width="0.9" height="0.9" fill="#aaa"/>
<rect x="597.4" y="465.1" width="0.9" height="0.9" fill="#aaa"/>
<rect x="680.8" y="472.0" width="0.9" height="0.9" fill="#aaa"/>
<rect x="687.0" y="467.2" width="0.9" height="0.9" fill="#aaa"/>
<rect x="693.8" y="464.0" width="0.9" height="0.9" fill="#aaa"/>
<rect x="660.1" y="457.2" width="0.9" height="0.9" fill="#aaa"/>
<rect x="696.6" y="460.3" width="0.9" height="0.9" fill="#aaa"/>
<rect x="718.3" y="467.2" width="0.9" height="0.9" fill="#aaa"/>
<rect x="621.0" y="458.6" width="0.9" height="0.9" fill="#aaa"/>
<rect x="612.8" y="467.0" width="0.9" height="0.9" fill="#aaa"/>
<rect x="683.4" y="458.4" width="0.9" height="0.9" fill="#aaa"/>
<rect x="584.1" y="465.2" width="0.9" height="0.9" fill="#aaa"/>
<rect x="665.1" y="462.9" width="0.9" height="0.9" fill="#aaa"/>
<rect x="608.3" y="466.4" width="0.9" height="0.9" fill="#aaa"/>
<rect x="574.7" y="461.5" width="0.9" height="0.9" fill="#aaa"/>
<rect x="645.8" y="472.3" width="0.9" height="0.9" fill="#aaa"/>
<rect x="674.8" y="471.1" width="0.9" height="0.9" fill="#aaa"/>
<rect x="648.1" y="460.4" width="0.9" height="0.9" fill="#aaa"/>
<rect x="612.0" y="472.4" width="0.9" height="0.9" fill="#aaa"/>
<rect x="684.3" y="461.6" width="0.9" height="0.9" fill="#aaa"/>
<rect x="576.4" y="464.7" width="0.9" height="0.9" fill="#aaa"/>
<rect x="679.6" y="463.4" width="0.9" height="0.9" fill="#aaa"/>
<rect x="613.6" y="467.5" width="0.9" height="0.9" fill="#aaa"/>
<rect x="719.2" y="460.2" width="0.9" height="0.9" fill="#aaa"/>
<rect x="578.4" y="462.1" width="0.9" height="0.9" fill="#aaa"/>
<rect x="639.4" y="467.8" width="0.9" height="0.9" fill="#aaa"/>
<rect x="604.3" y="469.7" width="0.9" height="0.9" fill="#aaa"/>
<rect x="689.8" y="464.8" width="0.9" height="0.9" fill="#aaa"/>
<rect x="605.4" y="472.5" width="0.9" height="0.9" fill="#aaa"/>
<rect x="622.3" y="470.0" width="0.9" height="0.9" fill="#aaa"/>
<rect x="609.5" y="460.2" width="0.9" height="0.9" fill="#aaa"/>
<rect x="693.2" y="461.4" width="0.9" height="0.9" fill="#aaa"/>
<rect x="723.4" y="464.7" width="0.9" height="0.9" fill="#aaa"/>
<rect x="602.6" y="460.2" width="0.9" height="0.9" fill="#aaa"/>
<rect x="638.9" y="467.5" width="0.9" height="0.9" fill="#aaa"/>
<rect x="722.9" y="458.9" width="0.9" height="0.9" fill="#aaa"/>
<rect x="635.2" y="460.0" width="0.9" height="0.9" fill="#aaa"/>
<rect x="726.9" y="458.8" width="0.9" height="0.9" fill="#aaa"/>
<rect x="581.2" y="457.5" width="0.9" height="0.9" fill="#aaa"/>
<rect x="635.1" y="471.3" width="0.9" height="0.9" fill="#aaa"/>
<rect x="712.6" y="468.6" width="0.9" height="0.9" fill="#aaa"/>
<rect x="730.6" y="471.9" width="0.9" height="0.9" fill="#aaa"/>
<rect x="625.0" y="459.6" width="0.9" height="0.9" fill="#aaa"/>
<rect x="720.9" y="468.8" width="0.9" height="0.9" fill="#aaa"/>
<rect x="578.0" y="467.5" width="0.9" height="0.9" fill="#aaa"/>
<rect x="632.8" y="462.7" width="0.9" height="0.9" fill="#aaa"/>
<rect x="625.4" y="459.3" width="0.9" height="0.9" fill="#aaa"/>
<rect x="573.5" y="461.1" width="0.9" height="0.9" fill="#aaa"/>
<rect x="628.5" y="472.3" width="0.9" height="0.9" fill="#aaa"/>
<rect x="592.5" y="472.4" width="0.9" height="0.9" fill="#aaa"/>
<rect x="605.8" y="462.4" width="0.9" height="0.9" fill="#aaa"/>
<rect x="702.8" y="470.1" width="0.9" height="0.9" fill="#aaa"/>
<rect x="641.3" y="457.3" width="0.9" height="0.9" fill="#aaa"/>
<rect x="647.8" y="462.6" width="0.9" height="0.9" fill="#aaa"/>
<rect x="718.3" y="459.7" width="0.9" height="0.9" fill="#aaa"/>
<rect x="630.6" y="471.3" width="0.9" height="0.9" fill="#aaa"/>
<rect x="577.8" y="463.3" width="0.9" height="0.9" fill="#aaa"/>
<rect x="701.3" y="469.2" width="0.9" height="0.9" fill="#aaa"/>
<rect x="579.4" y="457.1" width="0.9" height="0.9" fill="#aaa"/>
<rect x="582.9" y="471.7" width="0.9" height="0.9" fill="#aaa"/>
<rect x="613.6" y="468.8" width="0.9" height="0.9" fill="#aaa"/>
<rect x="715.0" y="462.1" width="0.9" height="0.9" fill="#aaa"/>
<rect x="616.0" y="472.3" width="0.9" height="0.9" fill="#aaa"/>
<rect x="670.5" y="460.8" width="0.9" height="0.9" fill="#aaa"/>
<rect x="686.2" y="461.7" width="0.9" height="0.9" fill="#aaa"/>
<rect x="616.5" y="456.6" width="0.9" height="0.9" fill="#aaa"/>
<rect x="692.4" y="471.6" width="0.9" height="0.9" fill="#aaa"/>
<rect x="673.2" y="472.1" width="0.9" height="0.9" fill="#aaa"/>
<rect x="576.8" y="460.4" width="0.9" height="0.9" fill="#aaa"/>
<rect x="648.1" y="472.3" width="0.9" height="0.9" fill="#aaa"/>
<rect x="723.7" y="462.9" width="0.9" height="0.9" fill="#aaa"/>
<rect x="612.7" y="463.6" width="0.9" height="0.9" fill="#aaa"/>
<rect x="651.0" y="471.8" width="0.9" height="0.9" fill="#aaa"/>
<rect x="601.9" y="469.7" width="0.9" height="0.9" fill="#aaa"/>
<rect x="689.7" y="470.1" width="0.9" height="0.9" fill="#aaa"/>
<rect x="695.1" y="466.5" width="0.9" height="0.9" fill="#aaa"/>
<rect x="624.8" y="461.8" width="0.9" height="0.9" fill="#aaa"/>
<rect x="630.2" y="469.4" width="0.9" height="0.9" fill="#aaa"/>
<rect x="585.5" y="459.8" width="0.9" height="0.9" fill="#aaa"/>
<rect x="692.0" y="460.6" width="0.9" height="0.9" fill="#aaa"/>
<rect x="583.2" y="457.1" width="0.9" height="0.9" fill="#aaa"/>
<rect x="660.3" y="461.9" width="0.9" height="0.9" fill="#aaa"/>
<rect x="727.9" y="471.1" width="0.9" height="0.9" fill="#aaa"/>
<rect x="729.1" y="460.9" width="0.9" height="0.9" fill="#aaa"/>
<rect x="586.3" y="458.1" width="0.9" height="0.9" fill="#aaa"/>
<rect x="651.8" y="468.2" width="0.9" height="0.9" fill="#aaa"/>
<rect x="643.6" y="460.4" width="0.9" height="0.9" fill="#aaa"/>
<rect x="638.9" y="466.7" width="0.9" height="0.9" fill="#aaa"/>
<rect x="679.5" y="468.8" width="0.9" height="0.9" fill="#aaa"/>
<rect x="706.8" y="467.5" width="0.9" height="0.9" fill="#aaa"/>
<rect x="592.1" y="470.4" width="0.9" height="0.9" fill="#aaa"/>
<rect x="619.4" y="465.9" width="0.9" height="0.9" fill="#aaa"/>
<rect x="631.9" y="468.7" width="0.9" height="0.9" fill="#aaa"/>
<rect x="604.5" y="460.6" width="0.9" height="0.9" fill="#aaa"/>
<rect x="611.8" y="459.0" width="0.9" height="0.9" fill="#aaa"/>
<rect x="712.7" y="466.0" width="0.9" height="0.9" fill="#aaa"/>
<rect x="624.6" y="463.0" width="0.9" height="0.9" fill="#aaa"/>
<rect x="729.8" y="464.9" width="0.9" height="0.9" fill="#aaa"/>
<rect x="609.6" y="469.8" width="0.9" height="0.9" fill="#aaa"/>
<rect x="676.2" y="472.9" width="0.9" height="0.9" fill="#aaa"/>
<rect x="589.2" y="464.3" width="0.9" height="0.9" fill="#aaa"/>
<rect x="702.4" y="470.4" width="0.9" height="0.9" fill="#aaa"/>
<rect x="717.5" y="457.2" width="0.9" height="0.9" fill="#aaa"/>
<rect x="619.4" y="458.5" width="0.9" height="0.9" fill="#aaa"/>
<rect x="603.0" y="472.6" width="0.9" height="0.9" fill="#aaa"/>
<rect x="665.1" y="471.8" width="0.9" height="0.9" fill="#aaa"/>
<rect x="631.8" y="470.8" width="0.9" height="0.9" fill="#aaa"/>
<rect x="644.0" y="460.8" width="0.9" height="0.9" fill="#aaa"/>
<rect x="695.9" y="472.1" width="0.9" height="0.9" fill="#aaa"/>
<rect x="589.7" y="466.3" width="0.9" height="0.9" fill="#aaa"/>
<rect x="671.0" y="460.1" width="0.9" height="0.9" fill="#aaa"/>
<rect x="631.3" y="458.8" width="0.9" height="0.9" fill="#aaa"/>
<rect x="605.2" y="460.7" width="0.9" height="0.9" fill="#aaa"/>
<rect x="667.7" y="467.3" width="0.9" height="0.9" fill="#aaa"/>
<rect x="605.1" y="456.7" width="0.9" height="0.9" fill="#aaa"/>
<rect x="624.7" y="467.7" width="0.9" height="0.9" fill="#aaa"/>
<rect x="602.3" y="461.7" width="0.9" height="0.9" fill="#aaa"/>
<rect x="605.1" y="469.6" width="0.9" height="0.9" fill="#aaa"/>
<rect x="659.6" y="457.5" width="0.9" height="0.9" fill="#aaa"/>
<rect x="589.0" y="463.0" width="0.9" height="0.9" fill="#aaa"/>
<rect x="659.9" y="467.0" width="0.9" height="0.9" fill="#aaa"/>
<rect x="587.4" y="459.2" width="0.9" height="0.9" fill="#aaa"/>
<polygon points="681.2,465.2 680.8,462.4 683.4,463.4" fill="#999"/>
<polygon points="720.5,463.7 721.0,460.4 723.6,462.5" fill="#999"/>
<polygon points="637.0,472.3 637.8,468.2 640.9,470.9" fill="#999"/>
<polygon points="606.1,468.5 603.8,469.7 603.9,467.1" fill="#999"/>
<polygon points="711.9,465.1 713.6,461.7 715.7,464.8" fill="#999"/>
<polygon points="712.3,464.6 710.0,465.6 710.2,463.1" fill="#999"/>
<polygon points="661.4,468.3 657.5,468.2 659.6,464.8" fill="#999"/>
<polygon points="671.6,464.5 668.6,463.3 671.1,461.3" fill="#999"/>
<polygon points="619.7,466.8 615.7,466.1 618.3,463.0" fill="#999"/>
<polygon points="650.8,471.8 647.7,469.1 651.6,467.8" fill="#999"/>
<polygon points="591.3,471.9 594.6,469.5 595.0,473.6" fill="#999"/>
<polygon points="583.7,470.4 582.4,473.1 580.7,470.7" fill="#999"/>
<polygon points="670.5,468.4 671.2,470.9 668.7,470.3" fill="#999"/>
<polygon points="609.5,461.6 609.6,465.5 606.2,463.6" fill="#999"/>
<polygon points="600.6,460.6 603.4,459.4 603.1,462.4" fill="#999"/>
<polygon points="633.2,457.8 634.9,459.9 632.2,460.3" fill="#999"/>
<polygon points="713.2,456.2 714.7,459.1 711.4,459.0" fill="#999"/>
<polygon points="578.7,469.2 581.2,469.5 579.8,471.5" fill="#999"/>
<polygon points="657.8,467.7 659.3,465.3 660.7,467.8" fill="#999"/>
<polygon points="662.4,464.6 664.7,461.9 665.8,465.2" fill="#999"/>
<polygon points="640.0,458.0 642.8,456.1 643.0,459.5" fill="#999"/>
<polygon points="608.4,469.5 611.0,466.9 612.0,470.5" fill="#999"/>
<polygon points="602.8,465.6 600.5,464.9 602.2,463.2" fill="#999"/>
<polygon points="639.0,458.8 641.7,457.4 641.5,460.5" fill="#999"/>
<polygon points="580.2,465.7 581.6,467.6 579.2,467.9" fill="#999"/>
<polygon points="693.2,465.1 695.2,464.0 695.2,466.4" fill="#999"/>
<polygon points="633.5,470.6 633.1,473.1 631.1,471.6" fill="#999"/>
<polygon points="729.2,470.5 726.2,468.1 729.8,466.8" fill="#999"/>
<polygon points="728.2,463.7 726.2,467.2 724.1,463.7" fill="#999"/>
<polygon points="601.7,470.3 597.7,470.7 599.3,467.0" fill="#999"/>
<polygon points="629.6,467.9 628.6,470.3 627.0,468.3" fill="#999"/>
<polygon points="615.2,469.7 617.4,468.5 617.3,471.0" fill="#999"/>
<polygon points="715.0,460.6 717.4,459.3 717.3,462.0" fill="#999"/>
<polygon points="624.3,459.3 622.0,458.1 624.2,456.7" fill="#999"/>
<path d="M569.4 449 V461 L563.2 464.3 L575.6 464.3 L569.4 467.6 V480" stroke="#888" stroke-width="0.9" fill="none" />
<path d="M734 449 V461 L727.6 464.3 L740 464.3 L734 467.6 V480" stroke="#888" stroke-width="0.9" fill="none" />
<rect x="58.20" y="383.20" width="465.80" height="4.40" stroke="#999" stroke-width="0.8" fill="#a4a4a4" />
<line x1="59.2" y1="385.4" x2="61.8" y2="385.4" stroke="#fff" stroke-width="2.4"/>
<line x1="62.4" y1="385.4" x2="64.2" y2="385.4" stroke="#fff" stroke-width="2.4"/>
<line x1="64.8" y1="385.4" x2="66.0" y2="385.4" stroke="#fff" stroke-width="2.4"/>
<line x1="66.4" y1="385.4" x2="69.0" y2="385.4" stroke="#fff" stroke-width="2.4"/>
<line x1="69.6" y1="386.6" x2="74.0" y2="384.3" stroke="#fff" stroke-width="1.7"/>
<line x1="74.9" y1="386.6" x2="76.1" y2="384.3" stroke="#fff" stroke-width="1.7"/>
<line x1="77.0" y1="385.4" x2="80.4" y2="385.4" stroke="#fff" stroke-width="2.4"/>
<line x1="81.0" y1="386.6" x2="83.6" y2="384.3" stroke="#fff" stroke-width="1.7"/>
<line x1="84.2" y1="386.6" x2="88.6" y2="384.3" stroke="#fff" stroke-width="1.7"/>
<line x1="89.2" y1="386.6" x2="90.4" y2="384.3" stroke="#fff" stroke-width="1.7"/>
<line x1="90.8" y1="385.4" x2="95.2" y2="385.4" stroke="#fff" stroke-width="2.4"/>
<line x1="95.6" y1="385.4" x2="98.2" y2="385.4" stroke="#fff" stroke-width="2.4"/>
<line x1="98.8" y1="385.4" x2="101.4" y2="385.4" stroke="#fff" stroke-width="2.4"/>
<line x1="102.3" y1="385.4" x2="104.9" y2="385.4" stroke="#fff" stroke-width="2.4"/>
<line x1="105.8" y1="386.6" x2="107.0" y2="384.3" stroke="#fff" stroke-width="1.7"/>
<line x1="107.6" y1="385.4" x2="112.0" y2="385.4" stroke="#fff" stroke-width="2.4"/>
<line x1="112.6" y1="386.6" x2="117.0" y2="384.3" stroke="#fff" stroke-width="1.7"/>
<line x1="117.4" y1="386.6" x2="119.2" y2="384.3" stroke="#fff" stroke-width="1.7"/>
<line x1="120.1" y1="386.6" x2="121.3" y2="384.3" stroke="#fff" stroke-width="1.7"/>
<line x1="121.7" y1="386.6" x2="126.1" y2="384.3" stroke="#fff" stroke-width="1.7"/>
<line x1="126.5" y1="386.6" x2="130.9" y2="384.3" stroke="#fff" stroke-width="1.7"/>
<line x1="131.3" y1="385.4" x2="134.7" y2="385.4" stroke="#fff" stroke-width="2.4"/>
<line x1="135.6" y1="386.6" x2="137.4" y2="384.3" stroke="#fff" stroke-width="1.7"/>
<line x1="138.3" y1="386.6" x2="141.7" y2="384.3" stroke="#fff" stroke-width="1.7"/>
<line x1="142.1" y1="385.4" x2="143.9" y2="385.4" stroke="#fff" stroke-width="2.4"/>
<line x1="144.5" y1="386.6" x2="145.7" y2="384.3" stroke="#fff" stroke-width="1.7"/>
<line x1="146.1" y1="386.6" x2="148.7" y2="384.3" stroke="#fff" stroke-width="1.7"/>
<line x1="149.3" y1="386.6" x2="150.5" y2="384.3" stroke="#fff" stroke-width="1.7"/>
<line x1="151.4" y1="385.4" x2="154.0" y2="385.4" stroke="#fff" stroke-width="2.4"/>
<line x1="154.9" y1="385.4" x2="158.3" y2="385.4" stroke="#fff" stroke-width="2.4"/>
<line x1="159.2" y1="386.6" x2="162.6" y2="384.3" stroke="#fff" stroke-width="1.7"/>
<line x1="163.0" y1="386.6" x2="164.2" y2="384.3" stroke="#fff" stroke-width="1.7"/>
<line x1="164.6" y1="386.6" x2="168.0" y2="384.3" stroke="#fff" stroke-width="1.7"/>
<line x1="168.4" y1="385.4" x2="169.6" y2="385.4" stroke="#fff" stroke-width="2.4"/>
<line x1="170.0" y1="385.4" x2="171.2" y2="385.4" stroke="#fff" stroke-width="2.4"/>
<line x1="172.1" y1="386.6" x2="173.9" y2="384.3" stroke="#fff" stroke-width="1.7"/>
<line x1="174.3" y1="385.4" x2="178.7" y2="385.4" stroke="#fff" stroke-width="2.4"/>
<line x1="179.6" y1="385.4" x2="183.0" y2="385.4" stroke="#fff" stroke-width="2.4"/>
<line x1="183.4" y1="386.6" x2="187.8" y2="384.3" stroke="#fff" stroke-width="1.7"/>
<line x1="188.4" y1="385.4" x2="189.6" y2="385.4" stroke="#fff" stroke-width="2.4"/>
<line x1="190.5" y1="385.4" x2="193.9" y2="385.4" stroke="#fff" stroke-width="2.4"/>
<line x1="194.3" y1="385.4" x2="197.7" y2="385.4" stroke="#fff" stroke-width="2.4"/>
<line x1="198.6" y1="386.6" x2="202.0" y2="384.3" stroke="#fff" stroke-width="1.7"/>
<line x1="202.9" y1="386.6" x2="206.3" y2="384.3" stroke="#fff" stroke-width="1.7"/>
<line x1="206.7" y1="386.6" x2="209.3" y2="384.3" stroke="#fff" stroke-width="1.7"/>
<line x1="209.7" y1="386.6" x2="210.9" y2="384.3" stroke="#fff" stroke-width="1.7"/>
<line x1="211.8" y1="385.4" x2="214.4" y2="385.4" stroke="#fff" stroke-width="2.4"/>
<line x1="215.0" y1="385.4" x2="219.4" y2="385.4" stroke="#fff" stroke-width="2.4"/>
<line x1="220.3" y1="385.4" x2="224.7" y2="385.4" stroke="#fff" stroke-width="2.4"/>
<line x1="225.3" y1="386.6" x2="227.1" y2="384.3" stroke="#fff" stroke-width="1.7"/>
<line x1="228.0" y1="386.6" x2="229.2" y2="384.3" stroke="#fff" stroke-width="1.7"/>
<line x1="229.6" y1="385.4" x2="231.4" y2="385.4" stroke="#fff" stroke-width="2.4"/>
<line x1="232.3" y1="386.6" x2="234.9" y2="384.3" stroke="#fff" stroke-width="1.7"/>
<line x1="235.5" y1="385.4" x2="238.1" y2="385.4" stroke="#fff" stroke-width="2.4"/>
<line x1="238.7" y1="386.6" x2="243.1" y2="384.3" stroke="#fff" stroke-width="1.7"/>
<line x1="244.0" y1="385.4" x2="245.2" y2="385.4" stroke="#fff" stroke-width="2.4"/>
<line x1="245.8" y1="385.4" x2="247.6" y2="385.4" stroke="#fff" stroke-width="2.4"/>
<line x1="248.2" y1="386.6" x2="250.0" y2="384.3" stroke="#fff" stroke-width="1.7"/>
<line x1="250.9" y1="385.4" x2="252.1" y2="385.4" stroke="#fff" stroke-width="2.4"/>
<line x1="252.5" y1="386.6" x2="254.3" y2="384.3" stroke="#fff" stroke-width="1.7"/>
<line x1="254.7" y1="385.4" x2="255.9" y2="385.4" stroke="#fff" stroke-width="2.4"/>
<line x1="256.3" y1="385.4" x2="258.9" y2="385.4" stroke="#fff" stroke-width="2.4"/>
<line x1="259.8" y1="386.6" x2="261.0" y2="384.3" stroke="#fff" stroke-width="1.7"/>
<line x1="261.4" y1="385.4" x2="262.6" y2="385.4" stroke="#fff" stroke-width="2.4"/>
<line x1="263.5" y1="386.6" x2="264.7" y2="384.3" stroke="#fff" stroke-width="1.7"/>
<line x1="265.6" y1="386.6" x2="268.2" y2="384.3" stroke="#fff" stroke-width="1.7"/>
<line x1="269.1" y1="385.4" x2="270.3" y2="385.4" stroke="#fff" stroke-width="2.4"/>
<line x1="271.2" y1="386.6" x2="274.6" y2="384.3" stroke="#fff" stroke-width="1.7"/>
<line x1="275.0" y1="386.6" x2="276.8" y2="384.3" stroke="#fff" stroke-width="1.7"/>
<line x1="277.2" y1="385.4" x2="278.4" y2="385.4" stroke="#fff" stroke-width="2.4"/>
<line x1="279.3" y1="386.6" x2="281.9" y2="384.3" stroke="#fff" stroke-width="1.7"/>
<line x1="282.3" y1="385.4" x2="283.5" y2="385.4" stroke="#fff" stroke-width="2.4"/>
<line x1="284.4" y1="386.6" x2="286.2" y2="384.3" stroke="#fff" stroke-width="1.7"/>
<line x1="286.8" y1="386.6" x2="290.2" y2="384.3" stroke="#fff" stroke-width="1.7"/>
<line x1="290.8" y1="385.4" x2="293.4" y2="385.4" stroke="#fff" stroke-width="2.4"/>
<line x1="293.8" y1="385.4" x2="296.4" y2="385.4" stroke="#fff" stroke-width="2.4"/>
<line x1="297.3" y1="386.6" x2="301.7" y2="384.3" stroke="#fff" stroke-width="1.7"/>
<line x1="302.3" y1="385.4" x2="306.7" y2="385.4" stroke="#fff" stroke-width="2.4"/>
<line x1="307.3" y1="386.6" x2="308.5" y2="384.3" stroke="#fff" stroke-width="1.7"/>
<line x1="308.9" y1="386.6" x2="311.5" y2="384.3" stroke="#fff" stroke-width="1.7"/>
<line x1="311.9" y1="385.4" x2="316.3" y2="385.4" stroke="#fff" stroke-width="2.4"/>
<line x1="317.2" y1="385.4" x2="318.4" y2="385.4" stroke="#fff" stroke-width="2.4"/>
<line x1="319.0" y1="386.6" x2="320.8" y2="384.3" stroke="#fff" stroke-width="1.7"/>
<line x1="321.7" y1="386.6" x2="323.5" y2="384.3" stroke="#fff" stroke-width="1.7"/>
<line x1="323.9" y1="386.6" x2="325.1" y2="384.3" stroke="#fff" stroke-width="1.7"/>
<line x1="325.5" y1="385.4" x2="328.9" y2="385.4" stroke="#fff" stroke-width="2.4"/>
<line x1="329.3" y1="385.4" x2="332.7" y2="385.4" stroke="#fff" stroke-width="2.4"/>
<line x1="333.6" y1="385.4" x2="336.2" y2="385.4" stroke="#fff" stroke-width="2.4"/>
<line x1="336.6" y1="385.4" x2="339.2" y2="385.4" stroke="#fff" stroke-width="2.4"/>
<line x1="340.1" y1="386.6" x2="341.9" y2="384.3" stroke="#fff" stroke-width="1.7"/>
<line x1="342.3" y1="386.6" x2="343.5" y2="384.3" stroke="#fff" stroke-width="1.7"/>
<line x1="344.4" y1="385.4" x2="348.8" y2="385.4" stroke="#fff" stroke-width="2.4"/>
<line x1="349.7" y1="386.6" x2="352.3" y2="384.3" stroke="#fff" stroke-width="1.7"/>
<line x1="352.9" y1="385.4" x2="356.3" y2="385.4" stroke="#fff" stroke-width="2.4"/>
<line x1="357.2" y1="386.6" x2="358.4" y2="384.3" stroke="#fff" stroke-width="1.7"/>
<line x1="359.3" y1="386.6" x2="360.5" y2="384.3" stroke="#fff" stroke-width="1.7"/>
<line x1="361.1" y1="386.6" x2="363.7" y2="384.3" stroke="#fff" stroke-width="1.7"/>
<line x1="364.6" y1="386.6" x2="369.0" y2="384.3" stroke="#fff" stroke-width="1.7"/>
<line x1="369.9" y1="385.4" x2="371.7" y2="385.4" stroke="#fff" stroke-width="2.4"/>
<line x1="372.1" y1="385.4" x2="376.5" y2="385.4" stroke="#fff" stroke-width="2.4"/>
<line x1="377.4" y1="385.4" x2="381.8" y2="385.4" stroke="#fff" stroke-width="2.4"/>
<line x1="382.4" y1="386.6" x2="386.8" y2="384.3" stroke="#fff" stroke-width="1.7"/>
<line x1="387.2" y1="385.4" x2="390.6" y2="385.4" stroke="#fff" stroke-width="2.4"/>
<line x1="391.5" y1="386.6" x2="394.1" y2="384.3" stroke="#fff" stroke-width="1.7"/>
<line x1="394.7" y1="385.4" x2="397.3" y2="385.4" stroke="#fff" stroke-width="2.4"/>
<line x1="397.7" y1="386.6" x2="400.3" y2="384.3" stroke="#fff" stroke-width="1.7"/>
<line x1="401.2" y1="386.6" x2="403.0" y2="384.3" stroke="#fff" stroke-width="1.7"/>
<line x1="403.6" y1="385.4" x2="406.2" y2="385.4" stroke="#fff" stroke-width="2.4"/>
<line x1="407.1" y1="385.4" x2="408.9" y2="385.4" stroke="#fff" stroke-width="2.4"/>
<line x1="409.3" y1="385.4" x2="411.9" y2="385.4" stroke="#fff" stroke-width="2.4"/>
<line x1="412.5" y1="386.6" x2="414.3" y2="384.3" stroke="#fff" stroke-width="1.7"/>
<line x1="414.7" y1="385.4" x2="417.3" y2="385.4" stroke="#fff" stroke-width="2.4"/>
<line x1="418.2" y1="386.6" x2="419.4" y2="384.3" stroke="#fff" stroke-width="1.7"/>
<line x1="420.3" y1="386.6" x2="421.5" y2="384.3" stroke="#fff" stroke-width="1.7"/>
<line x1="421.9" y1="385.4" x2="423.7" y2="385.4" stroke="#fff" stroke-width="2.4"/>
<line x1="424.6" y1="386.6" x2="427.2" y2="384.3" stroke="#fff" stroke-width="1.7"/>
<line x1="427.6" y1="385.4" x2="428.8" y2="385.4" stroke="#fff" stroke-width="2.4"/>
<line x1="429.2" y1="386.6" x2="431.8" y2="384.3" stroke="#fff" stroke-width="1.7"/>
<line x1="432.4" y1="386.6" x2="435.8" y2="384.3" stroke="#fff" stroke-width="1.7"/>
<line x1="436.4" y1="385.4" x2="439.8" y2="385.4" stroke="#fff" stroke-width="2.4"/>
<line x1="440.7" y1="386.6" x2="443.3" y2="384.3" stroke="#fff" stroke-width="1.7"/>
<line x1="443.7" y1="385.4" x2="446.3" y2="385.4" stroke="#fff" stroke-width="2.4"/>
<line x1="446.9" y1="385.4" x2="448.1" y2="385.4" stroke="#fff" stroke-width="2.4"/>
<line x1="448.7" y1="385.4" x2="453.1" y2="385.4" stroke="#fff" stroke-width="2.4"/>
<line x1="454.0" y1="385.4" x2="457.4" y2="385.4" stroke="#fff" stroke-width="2.4"/>
<line x1="458.3" y1="385.4" x2="462.7" y2="385.4" stroke="#fff" stroke-width="2.4"/>
<line x1="463.6" y1="385.4" x2="465.4" y2="385.4" stroke="#fff" stroke-width="2.4"/>
<line x1="466.0" y1="386.6" x2="469.4" y2="384.3" stroke="#fff" stroke-width="1.7"/>
<line x1="470.3" y1="385.4" x2="471.5" y2="385.4" stroke="#fff" stroke-width="2.4"/>
<line x1="471.9" y1="385.4" x2="475.3" y2="385.4" stroke="#fff" stroke-width="2.4"/>
<line x1="476.2" y1="386.6" x2="478.0" y2="384.3" stroke="#fff" stroke-width="1.7"/>
<line x1="478.6" y1="386.6" x2="482.0" y2="384.3" stroke="#fff" stroke-width="1.7"/>
<line x1="482.9" y1="386.6" x2="486.3" y2="384.3" stroke="#fff" stroke-width="1.7"/>
<line x1="487.2" y1="385.4" x2="489.0" y2="385.4" stroke="#fff" stroke-width="2.4"/>
<line x1="489.6" y1="386.6" x2="490.8" y2="384.3" stroke="#fff" stroke-width="1.7"/>
<line x1="491.4" y1="386.6" x2="492.6" y2="384.3" stroke="#fff" stroke-width="1.7"/>
<line x1="493.5" y1="386.6" x2="495.3" y2="384.3" stroke="#fff" stroke-width="1.7"/>
<line x1="495.7" y1="386.6" x2="500.1" y2="384.3" stroke="#fff" stroke-width="1.7"/>
<line x1="501.0" y1="386.6" x2="504.4" y2="384.3" stroke="#fff" stroke-width="1.7"/>
<line x1="505.3" y1="386.6" x2="508.7" y2="384.3" stroke="#fff" stroke-width="1.7"/>
<line x1="509.6" y1="386.6" x2="512.2" y2="384.3" stroke="#fff" stroke-width="1.7"/>
<line x1="512.8" y1="386.6" x2="516.2" y2="384.3" stroke="#fff" stroke-width="1.7"/>
<line x1="517.1" y1="386.6" x2="518.9" y2="384.3" stroke="#fff" stroke-width="1.7"/>
<line x1="519.3" y1="386.6" x2="523.7" y2="384.3" stroke="#fff" stroke-width="1.7"/>
<path d="M58.8 387.6 V470 L46.8 477.5 H68.5 L57.4 483.5 V567" stroke="#888" stroke-width="0.9" fill="none" />
<path d="M523.2 387.6 V471.5 L511.5 478.5 H534 L522.2 484.5 V567" stroke="#888" stroke-width="0.9" fill="none" />
<rect x="88.40" y="409.00" width="115.20" height="55.80" stroke="#111" stroke-width="1.3" fill="#fff" />
<circle cx="110.90" cy="437.20" r="15.30" stroke="#333" stroke-width="0.8" fill="none" />
<circle cx="110.90" cy="437.20" r="12.20" stroke="#666" stroke-width="0.6" fill="none" />
<circle cx="110.90" cy="437.20" r="9.20" stroke="#666" stroke-width="0.6" fill="none" />
<circle cx="110.90" cy="437.20" r="6.20" stroke="#666" stroke-width="0.6" fill="none" />
<line x1="94.90" y1="437.20" x2="126.90" y2="437.20" stroke="#888" stroke-width="0.6" />
<line x1="110.90" y1="421.20" x2="110.90" y2="453.20" stroke="#666" stroke-width="0.6" />
<line x1="100.08" y1="426.38" x2="121.72" y2="448.02" stroke="#555" stroke-width="0.6" />
<line x1="100.08" y1="448.02" x2="121.72" y2="426.38" stroke="#555" stroke-width="0.6" />
<circle cx="110.90" cy="437.20" r="3.10" stroke="none" stroke-width="0" fill="#111" />
<circle cx="145.90" cy="437.20" r="15.30" stroke="#333" stroke-width="0.8" fill="none" />
<circle cx="145.90" cy="437.20" r="12.20" stroke="#666" stroke-width="0.6" fill="none" />
<circle cx="145.90" cy="437.20" r="9.20" stroke="#666" stroke-width="0.6" fill="none" />
<circle cx="145.90" cy="437.20" r="6.20" stroke="#666" stroke-width="0.6" fill="none" />
<line x1="129.90" y1="437.20" x2="161.90" y2="437.20" stroke="#888" stroke-width="0.6" />
<line x1="145.90" y1="421.20" x2="145.90" y2="453.20" stroke="#666" stroke-width="0.6" />
<line x1="135.08" y1="426.38" x2="156.72" y2="448.02" stroke="#555" stroke-width="0.6" />
<line x1="135.08" y1="448.02" x2="156.72" y2="426.38" stroke="#555" stroke-width="0.6" />
<circle cx="145.90" cy="437.20" r="3.10" stroke="none" stroke-width="0" fill="#111" />
<circle cx="180.90" cy="437.20" r="15.30" stroke="#333" stroke-width="0.8" fill="none" />
<circle cx="180.90" cy="437.20" r="12.20" stroke="#666" stroke-width="0.6" fill="none" />
<circle cx="180.90" cy="437.20" r="9.20" stroke="#666" stroke-width="0.6" fill="none" />
<circle cx="180.90" cy="437.20" r="6.20" stroke="#666" stroke-width="0.6" fill="none" />
<line x1="164.90" y1="437.20" x2="196.90" y2="437.20" stroke="#888" stroke-width="0.6" />
<line x1="180.90" y1="421.20" x2="180.90" y2="453.20" stroke="#666" stroke-width="0.6" />
<line x1="170.08" y1="426.38" x2="191.72" y2="448.02" stroke="#555" stroke-width="0.6" />
<line x1="170.08" y1="448.02" x2="191.72" y2="426.38" stroke="#555" stroke-width="0.6" />
<circle cx="180.90" cy="437.20" r="3.10" stroke="none" stroke-width="0" fill="#111" />
<circle cx="95.50" cy="437.20" r="0.90" stroke="none" stroke-width="0" fill="#111" />
<rect x="238.70" y="409.00" width="115.20" height="55.80" stroke="#111" stroke-width="1.3" fill="#fff" />
<circle cx="261.20" cy="437.20" r="15.30" stroke="#333" stroke-width="0.8" fill="none" />
<circle cx="261.20" cy="437.20" r="12.20" stroke="#666" stroke-width="0.6" fill="none" />
<circle cx="261.20" cy="437.20" r="9.20" stroke="#666" stroke-width="0.6" fill="none" />
<circle cx="261.20" cy="437.20" r="6.20" stroke="#666" stroke-width="0.6" fill="none" />
<line x1="245.20" y1="437.20" x2="277.20" y2="437.20" stroke="#888" stroke-width="0.6" />
<line x1="261.20" y1="421.20" x2="261.20" y2="453.20" stroke="#666" stroke-width="0.6" />
<line x1="250.38" y1="426.38" x2="272.02" y2="448.02" stroke="#555" stroke-width="0.6" />
<line x1="250.38" y1="448.02" x2="272.02" y2="426.38" stroke="#555" stroke-width="0.6" />
<circle cx="261.20" cy="437.20" r="3.10" stroke="none" stroke-width="0" fill="#111" />
<circle cx="296.20" cy="437.20" r="15.30" stroke="#333" stroke-width="0.8" fill="none" />
<circle cx="296.20" cy="437.20" r="12.20" stroke="#666" stroke-width="0.6" fill="none" />
<circle cx="296.20" cy="437.20" r="9.20" stroke="#666" stroke-width="0.6" fill="none" />
<circle cx="296.20" cy="437.20" r="6.20" stroke="#666" stroke-width="0.6" fill="none" />
<line x1="280.20" y1="437.20" x2="312.20" y2="437.20" stroke="#888" stroke-width="0.6" />
<line x1="296.20" y1="421.20" x2="296.20" y2="453.20" stroke="#666" stroke-width="0.6" />
<line x1="285.38" y1="426.38" x2="307.02" y2="448.02" stroke="#555" stroke-width="0.6" />
<line x1="285.38" y1="448.02" x2="307.02" y2="426.38" stroke="#555" stroke-width="0.6" />
<circle cx="296.20" cy="437.20" r="3.10" stroke="none" stroke-width="0" fill="#111" />
<circle cx="331.20" cy="437.20" r="15.30" stroke="#333" stroke-width="0.8" fill="none" />
<circle cx="331.20" cy="437.20" r="12.20" stroke="#666" stroke-width="0.6" fill="none" />
<circle cx="331.20" cy="437.20" r="9.20" stroke="#666" stroke-width="0.6" fill="none" />
<circle cx="331.20" cy="437.20" r="6.20" stroke="#666" stroke-width="0.6" fill="none" />
<line x1="315.20" y1="437.20" x2="347.20" y2="437.20" stroke="#888" stroke-width="0.6" />
<line x1="331.20" y1="421.20" x2="331.20" y2="453.20" stroke="#666" stroke-width="0.6" />
<line x1="320.38" y1="426.38" x2="342.02" y2="448.02" stroke="#555" stroke-width="0.6" />
<line x1="320.38" y1="448.02" x2="342.02" y2="426.38" stroke="#555" stroke-width="0.6" />
<circle cx="331.20" cy="437.20" r="3.10" stroke="none" stroke-width="0" fill="#111" />
<circle cx="245.80" cy="437.20" r="0.90" stroke="none" stroke-width="0" fill="#111" />
<rect x="389.00" y="409.00" width="115.20" height="55.80" stroke="#111" stroke-width="1.3" fill="#fff" />
<circle cx="411.50" cy="437.20" r="15.30" stroke="#333" stroke-width="0.8" fill="none" />
<circle cx="411.50" cy="437.20" r="12.20" stroke="#666" stroke-width="0.6" fill="none" />
<circle cx="411.50" cy="437.20" r="9.20" stroke="#666" stroke-width="0.6" fill="none" />
<circle cx="411.50" cy="437.20" r="6.20" stroke="#666" stroke-width="0.6" fill="none" />
<line x1="395.50" y1="437.20" x2="427.50" y2="437.20" stroke="#888" stroke-width="0.6" />
<line x1="411.50" y1="421.20" x2="411.50" y2="453.20" stroke="#666" stroke-width="0.6" />
<line x1="400.68" y1="426.38" x2="422.32" y2="448.02" stroke="#555" stroke-width="0.6" />
<line x1="400.68" y1="448.02" x2="422.32" y2="426.38" stroke="#555" stroke-width="0.6" />
<circle cx="411.50" cy="437.20" r="3.10" stroke="none" stroke-width="0" fill="#111" />
<circle cx="446.50" cy="437.20" r="15.30" stroke="#333" stroke-width="0.8" fill="none" />
<circle cx="446.50" cy="437.20" r="12.20" stroke="#666" stroke-width="0.6" fill="none" />
<circle cx="446.50" cy="437.20" r="9.20" stroke="#666" stroke-width="0.6" fill="none" />
<circle cx="446.50" cy="437.20" r="6.20" stroke="#666" stroke-width="0.6" fill="none" />
<line x1="430.50" y1="437.20" x2="462.50" y2="437.20" stroke="#888" stroke-width="0.6" />
<line x1="446.50" y1="421.20" x2="446.50" y2="453.20" stroke="#666" stroke-width="0.6" />
<line x1="435.68" y1="426.38" x2="457.32" y2="448.02" stroke="#555" stroke-width="0.6" />
<line x1="435.68" y1="448.02" x2="457.32" y2="426.38" stroke="#555" stroke-width="0.6" />
<circle cx="446.50" cy="437.20" r="3.10" stroke="none" stroke-width="0" fill="#111" />
<circle cx="481.50" cy="437.20" r="15.30" stroke="#333" stroke-width="0.8" fill="none" />
<circle cx="481.50" cy="437.20" r="12.20" stroke="#666" stroke-width="0.6" fill="none" />
<circle cx="481.50" cy="437.20" r="9.20" stroke="#666" stroke-width="0.6" fill="none" />
<circle cx="481.50" cy="437.20" r="6.20" stroke="#666" stroke-width="0.6" fill="none" />
<line x1="465.50" y1="437.20" x2="497.50" y2="437.20" stroke="#888" stroke-width="0.6" />
<line x1="481.50" y1="421.20" x2="481.50" y2="453.20" stroke="#666" stroke-width="0.6" />
<line x1="470.68" y1="426.38" x2="492.32" y2="448.02" stroke="#555" stroke-width="0.6" />
<line x1="470.68" y1="448.02" x2="492.32" y2="426.38" stroke="#555" stroke-width="0.6" />
<circle cx="481.50" cy="437.20" r="3.10" stroke="none" stroke-width="0" fill="#111" />
<circle cx="396.10" cy="437.20" r="0.90" stroke="none" stroke-width="0" fill="#111" />
<rect x="88.40" y="498.70" width="115.20" height="55.40" stroke="#111" stroke-width="1.3" fill="#fff" />
<circle cx="110.90" cy="526.50" r="15.30" stroke="#333" stroke-width="0.8" fill="none" />
<circle cx="110.90" cy="526.50" r="12.20" stroke="#666" stroke-width="0.6" fill="none" />
<circle cx="110.90" cy="526.50" r="9.20" stroke="#666" stroke-width="0.6" fill="none" />
<circle cx="110.90" cy="526.50" r="6.20" stroke="#666" stroke-width="0.6" fill="none" />
<line x1="94.90" y1="526.50" x2="126.90" y2="526.50" stroke="#888" stroke-width="0.6" />
<line x1="110.90" y1="510.50" x2="110.90" y2="542.50" stroke="#666" stroke-width="0.6" />
<line x1="100.08" y1="515.68" x2="121.72" y2="537.32" stroke="#555" stroke-width="0.6" />
<line x1="100.08" y1="537.32" x2="121.72" y2="515.68" stroke="#555" stroke-width="0.6" />
<circle cx="110.90" cy="526.50" r="3.10" stroke="none" stroke-width="0" fill="#111" />
<circle cx="145.90" cy="526.50" r="15.30" stroke="#333" stroke-width="0.8" fill="none" />
<circle cx="145.90" cy="526.50" r="12.20" stroke="#666" stroke-width="0.6" fill="none" />
<circle cx="145.90" cy="526.50" r="9.20" stroke="#666" stroke-width="0.6" fill="none" />
<circle cx="145.90" cy="526.50" r="6.20" stroke="#666" stroke-width="0.6" fill="none" />
<line x1="129.90" y1="526.50" x2="161.90" y2="526.50" stroke="#888" stroke-width="0.6" />
<line x1="145.90" y1="510.50" x2="145.90" y2="542.50" stroke="#666" stroke-width="0.6" />
<line x1="135.08" y1="515.68" x2="156.72" y2="537.32" stroke="#555" stroke-width="0.6" />
<line x1="135.08" y1="537.32" x2="156.72" y2="515.68" stroke="#555" stroke-width="0.6" />
<circle cx="145.90" cy="526.50" r="3.10" stroke="none" stroke-width="0" fill="#111" />
<circle cx="180.90" cy="526.50" r="15.30" stroke="#333" stroke-width="0.8" fill="none" />
<circle cx="180.90" cy="526.50" r="12.20" stroke="#666" stroke-width="0.6" fill="none" />
<circle cx="180.90" cy="526.50" r="9.20" stroke="#666" stroke-width="0.6" fill="none" />
<circle cx="180.90" cy="526.50" r="6.20" stroke="#666" stroke-width="0.6" fill="none" />
<line x1="164.90" y1="526.50" x2="196.90" y2="526.50" stroke="#888" stroke-width="0.6" />
<line x1="180.90" y1="510.50" x2="180.90" y2="542.50" stroke="#666" stroke-width="0.6" />
<line x1="170.08" y1="515.68" x2="191.72" y2="537.32" stroke="#555" stroke-width="0.6" />
<line x1="170.08" y1="537.32" x2="191.72" y2="515.68" stroke="#555" stroke-width="0.6" />
<circle cx="180.90" cy="526.50" r="3.10" stroke="none" stroke-width="0" fill="#111" />
<circle cx="95.50" cy="526.50" r="0.90" stroke="none" stroke-width="0" fill="#111" />
<rect x="238.70" y="498.70" width="115.20" height="55.40" stroke="#111" stroke-width="1.3" fill="#fff" />
<circle cx="261.20" cy="526.50" r="15.30" stroke="#333" stroke-width="0.8" fill="none" />
<circle cx="261.20" cy="526.50" r="12.20" stroke="#666" stroke-width="0.6" fill="none" />
<circle cx="261.20" cy="526.50" r="9.20" stroke="#666" stroke-width="0.6" fill="none" />
<circle cx="261.20" cy="526.50" r="6.20" stroke="#666" stroke-width="0.6" fill="none" />
<line x1="245.20" y1="526.50" x2="277.20" y2="526.50" stroke="#888" stroke-width="0.6" />
<line x1="261.20" y1="510.50" x2="261.20" y2="542.50" stroke="#666" stroke-width="0.6" />
<line x1="250.38" y1="515.68" x2="272.02" y2="537.32" stroke="#555" stroke-width="0.6" />
<line x1="250.38" y1="537.32" x2="272.02" y2="515.68" stroke="#555" stroke-width="0.6" />
<circle cx="261.20" cy="526.50" r="3.10" stroke="none" stroke-width="0" fill="#111" />
<circle cx="296.20" cy="526.50" r="15.30" stroke="#333" stroke-width="0.8" fill="none" />
<circle cx="296.20" cy="526.50" r="12.20" stroke="#666" stroke-width="0.6" fill="none" />
<circle cx="296.20" cy="526.50" r="9.20" stroke="#666" stroke-width="0.6" fill="none" />
<circle cx="296.20" cy="526.50" r="6.20" stroke="#666" stroke-width="0.6" fill="none" />
<line x1="280.20" y1="526.50" x2="312.20" y2="526.50" stroke="#888" stroke-width="0.6" />
<line x1="296.20" y1="510.50" x2="296.20" y2="542.50" stroke="#666" stroke-width="0.6" />
<line x1="285.38" y1="515.68" x2="307.02" y2="537.32" stroke="#555" stroke-width="0.6" />
<line x1="285.38" y1="537.32" x2="307.02" y2="515.68" stroke="#555" stroke-width="0.6" />
<circle cx="296.20" cy="526.50" r="3.10" stroke="none" stroke-width="0" fill="#111" />
<circle cx="331.20" cy="526.50" r="15.30" stroke="#333" stroke-width="0.8" fill="none" />
<circle cx="331.20" cy="526.50" r="12.20" stroke="#666" stroke-width="0.6" fill="none" />
<circle cx="331.20" cy="526.50" r="9.20" stroke="#666" stroke-width="0.6" fill="none" />
<circle cx="331.20" cy="526.50" r="6.20" stroke="#666" stroke-width="0.6" fill="none" />
<line x1="315.20" y1="526.50" x2="347.20" y2="526.50" stroke="#888" stroke-width="0.6" />
<line x1="331.20" y1="510.50" x2="331.20" y2="542.50" stroke="#666" stroke-width="0.6" />
<line x1="320.38" y1="515.68" x2="342.02" y2="537.32" stroke="#555" stroke-width="0.6" />
<line x1="320.38" y1="537.32" x2="342.02" y2="515.68" stroke="#555" stroke-width="0.6" />
<circle cx="331.20" cy="526.50" r="3.10" stroke="none" stroke-width="0" fill="#111" />
<circle cx="245.80" cy="526.50" r="0.90" stroke="none" stroke-width="0" fill="#111" />
<rect x="389.00" y="498.70" width="115.20" height="55.40" stroke="#111" stroke-width="1.3" fill="#fff" />
<circle cx="411.50" cy="526.50" r="15.30" stroke="#333" stroke-width="0.8" fill="none" />
<circle cx="411.50" cy="526.50" r="12.20" stroke="#666" stroke-width="0.6" fill="none" />
<circle cx="411.50" cy="526.50" r="9.20" stroke="#666" stroke-width="0.6" fill="none" />
<circle cx="411.50" cy="526.50" r="6.20" stroke="#666" stroke-width="0.6" fill="none" />
<line x1="395.50" y1="526.50" x2="427.50" y2="526.50" stroke="#888" stroke-width="0.6" />
<line x1="411.50" y1="510.50" x2="411.50" y2="542.50" stroke="#666" stroke-width="0.6" />
<line x1="400.68" y1="515.68" x2="422.32" y2="537.32" stroke="#555" stroke-width="0.6" />
<line x1="400.68" y1="537.32" x2="422.32" y2="515.68" stroke="#555" stroke-width="0.6" />
<circle cx="411.50" cy="526.50" r="3.10" stroke="none" stroke-width="0" fill="#111" />
<circle cx="446.50" cy="526.50" r="15.30" stroke="#333" stroke-width="0.8" fill="none" />
<circle cx="446.50" cy="526.50" r="12.20" stroke="#666" stroke-width="0.6" fill="none" />
<circle cx="446.50" cy="526.50" r="9.20" stroke="#666" stroke-width="0.6" fill="none" />
<circle cx="446.50" cy="526.50" r="6.20" stroke="#666" stroke-width="0.6" fill="none" />
<line x1="430.50" y1="526.50" x2="462.50" y2="526.50" stroke="#888" stroke-width="0.6" />
<line x1="446.50" y1="510.50" x2="446.50" y2="542.50" stroke="#666" stroke-width="0.6" />
<line x1="435.68" y1="515.68" x2="457.32" y2="537.32" stroke="#555" stroke-width="0.6" />
<line x1="435.68" y1="537.32" x2="457.32" y2="515.68" stroke="#555" stroke-width="0.6" />
<circle cx="446.50" cy="526.50" r="3.10" stroke="none" stroke-width="0" fill="#111" />
<circle cx="481.50" cy="526.50" r="15.30" stroke="#333" stroke-width="0.8" fill="none" />
<circle cx="481.50" cy="526.50" r="12.20" stroke="#666" stroke-width="0.6" fill="none" />
<circle cx="481.50" cy="526.50" r="9.20" stroke="#666" stroke-width="0.6" fill="none" />
<circle cx="481.50" cy="526.50" r="6.20" stroke="#666" stroke-width="0.6" fill="none" />
<line x1="465.50" y1="526.50" x2="497.50" y2="526.50" stroke="#888" stroke-width="0.6" />
<line x1="481.50" y1="510.50" x2="481.50" y2="542.50" stroke="#666" stroke-width="0.6" />
<line x1="470.68" y1="515.68" x2="492.32" y2="537.32" stroke="#555" stroke-width="0.6" />
<line x1="470.68" y1="537.32" x2="492.32" y2="515.68" stroke="#555" stroke-width="0.6" />
<circle cx="481.50" cy="526.50" r="3.10" stroke="none" stroke-width="0" fill="#111" />
<circle cx="396.10" cy="526.50" r="0.90" stroke="none" stroke-width="0" fill="#111" />
<line x1="203.60" y1="437.20" x2="238.70" y2="437.20" stroke="#111" stroke-width="0.8" />
<polygon points="238.70,437.20 232.20,436.00 232.20,438.40" fill="#111"/>
<polygon points="203.60,437.20 210.10,436.00 210.10,438.40" fill="#111"/>
<text x="221.15" y="435.60" font-size="10" fill="#111" text-anchor="middle" font-family="'Liberation Sans','Noto Sans CJK SC',sans-serif" font-weight="400" textLength="14" lengthAdjust="spacingAndGlyphs" stroke="#111" stroke-width="0.35">700</text>
<line x1="353.90" y1="437.20" x2="389.00" y2="437.20" stroke="#111" stroke-width="0.8" />
<polygon points="389.00,437.20 382.50,436.00 382.50,438.40" fill="#111"/>
<polygon points="353.90,437.20 360.40,436.00 360.40,438.40" fill="#111"/>
<text x="371.45" y="435.60" font-size="10" fill="#111" text-anchor="middle" font-family="'Liberation Sans','Noto Sans CJK SC',sans-serif" font-weight="400" textLength="14" lengthAdjust="spacingAndGlyphs" stroke="#111" stroke-width="0.35">700</text>
<line x1="146.00" y1="387.60" x2="146.00" y2="409.00" stroke="#111" stroke-width="0.8" />
<text transform="translate(144.30,398.50) rotate(-90)" font-size="9.8" fill="#111" text-anchor="middle" font-family="'Liberation Sans',sans-serif" textLength="14.8" lengthAdjust="spacingAndGlyphs" stroke="#111" stroke-width="0.35">500</text>
<line x1="89.90" y1="465.00" x2="89.90" y2="498.70" stroke="#111" stroke-width="0.8" />
<polygon points="89.90,498.70 88.70,493.70 91.10,493.70" fill="#111"/>
<polygon points="89.90,465.00 88.70,470.00 91.10,470.00" fill="#111"/>
<text transform="translate(88.50,481.80) rotate(-90)" font-size="9.8" fill="#111" text-anchor="middle" font-family="'Liberation Sans',sans-serif" textLength="18.8" lengthAdjust="spacingAndGlyphs" stroke="#111" stroke-width="0.35">1200</text>
<text x="291.20" y="474.80" font-size="7.6" fill="#111" text-anchor="start" font-family="'Liberation Sans','Noto Sans CJK SC',sans-serif" font-weight="400" >门</text>
<text x="295.30" y="497.70" font-size="7.6" fill="#111" text-anchor="start" font-family="'Liberation Sans','Noto Sans CJK SC',sans-serif" font-weight="400" >门</text>
</g>
<g id="right-diagram">
<path d="M920 287.8 H871.5 V568.8" stroke="#2775bd" stroke-width="1.5" fill="none" stroke-linejoin="round"/>
<path d="M871.5 464.8 H1441.9" stroke="#2775bd" stroke-width="1.5" fill="none" stroke-linejoin="round"/>
<path d="M871.5 553.4 H1358.8 V540.6 H1340" stroke="#2775bd" stroke-width="1.5" fill="none" stroke-linejoin="round"/>
<path d="M1001.5 389 H1218.1" stroke="#2775bd" stroke-width="1.5" fill="none" stroke-linejoin="round"/>
<path d="M1076 362.3 H1061.9 V414.4 H1076" stroke="#2775bd" stroke-width="1.5" fill="none" stroke-linejoin="round"/>
<path d="M1092 362.3 H1137.3 V414.4 H1092" stroke="#2775bd" stroke-width="1.5" fill="none" stroke-linejoin="round"/>
<path d="M1218.1 290.2 V441.3 H1270.5" stroke="#2775bd" stroke-width="1.5" fill="none" stroke-linejoin="round"/>
<path d="M1218.1 290.2 H1270.5" stroke="#2775bd" stroke-width="1.5" fill="none" stroke-linejoin="round"/>
<path d="M1218.1 364.4 H1270.5" stroke="#2775bd" stroke-width="1.5" fill="none" stroke-linejoin="round"/>
<path d="M1361 290.4 H1441.9 V568.8" stroke="#2775bd" stroke-width="1.5" fill="none" stroke-linejoin="round"/>
<path d="M1361 364.4 H1441.9" stroke="#2775bd" stroke-width="1.5" fill="none" stroke-linejoin="round"/>
<path d="M1361 441.3 H1441.9" stroke="#2775bd" stroke-width="1.5" fill="none" stroke-linejoin="round"/>
<path d="M1137 528.6 H1176.6 V508.5 H1441.9" stroke="#2775bd" stroke-width="1.5" fill="none" stroke-linejoin="round"/>
<path d="M1340 528.6 H1381.3 V508.5" stroke="#2775bd" stroke-width="1.5" fill="none" stroke-linejoin="round"/>
<path d="M1137 540.6 H1154.6 V553.4" stroke="#2775bd" stroke-width="1.5" fill="none" stroke-linejoin="round"/>
<path d="M920.5 270.4 V396 q0 3.2 3.2 3.2 H995.5 q3.2 0 3.2 -3.2 V270.4" stroke="#808080" stroke-width="1" fill="#fff" />
<path d="M920.5 270.6 Q959.6 243.6 998.7 270.6 Z" stroke="#808080" stroke-width="1" fill="#fff" />
<line x1="921.00" y1="269.90" x2="998.20" y2="269.90" stroke="#999" stroke-width="1.3" />
<line x1="920.50" y1="273.10" x2="998.70" y2="273.10" stroke="#999" stroke-width="1.1" />
<line x1="920.50" y1="277.00" x2="998.70" y2="277.00" stroke="#444" stroke-width="1.6" />
<line x1="920.50" y1="391.90" x2="998.70" y2="391.90" stroke="#333" stroke-width="1.6" />
<line x1="920.50" y1="396.30" x2="998.70" y2="396.30" stroke="#999" stroke-width="1.0" />
<rect x="933.30" y="258.90" width="4.80" height="2.50" stroke="none" stroke-width="0" fill="#111" />
<rect x="957.30" y="255.10" width="4.70" height="2.40" stroke="none" stroke-width="0" fill="#111" />
<line x1="937.00" y1="252.50" x2="937.00" y2="256.50" stroke="#ccc" stroke-width="0.6" />
<path d="M936.2 267.6 l0.9 -3.2 l0.9 3.2" stroke="#ccc" stroke-width="0.6" fill="none" />
<path d="M920.5 285.2 l-2.6 1 q-1.4 1.3 0 2.6 l2.6 1 Z" stroke="#111" stroke-width="0.3" fill="#111" />
<path d="M920.5 387 h-3.4 v4 h3.4 Z" stroke="#111" stroke-width="0.3" fill="#111" />
<path d="M998.7 387 h2.4 l0.8 1 v2 l-0.8 1 h-2.4 Z" stroke="#111" stroke-width="0.3" fill="#111" />
<rect x="981.60" y="378.60" width="25.20" height="4.10" stroke="#777" stroke-width="1.0" fill="#fff" rx="2"/>
<line x1="998.70" y1="378.60" x2="998.70" y2="382.70" stroke="#999" stroke-width="0.8" />
<path d="M1007 380.4 H1022.7 V385.2 L1025.5 386.6 M1025.5 392 L1022.7 393.4 V400.4 C1020.5 412 1011 419 1010.8 428.6 C1010.6 437.5 1016 444.5 1019.4 451.8" stroke="#c4c4c4" stroke-width="0.7" fill="none" />
<text x="901.20" y="250.30" font-size="9.5" fill="#333" text-anchor="start" font-family="'Liberation Sans','Noto Sans CJK SC',sans-serif" font-weight="500" textLength="121" lengthAdjust="spacingAndGlyphs">膨胀、缓冲、排气一体水箱</text>
<text x="925.00" y="367.40" font-size="9.5" fill="#333" text-anchor="start" font-family="'Liberation Sans','Noto Sans CJK SC',sans-serif" font-weight="500" textLength="70" lengthAdjust="spacingAndGlyphs">水箱温度传感器</text>
<text x="1058.80" y="345.10" font-size="9.5" fill="#333" text-anchor="start" font-family="'Liberation Sans','Noto Sans CJK SC',sans-serif" font-weight="500" textLength="90.2" lengthAdjust="spacingAndGlyphs">变频恒压供水水泵组</text>
<text x="1155.00" y="371.70" font-size="9.5" fill="#333" text-anchor="start" font-family="'Liberation Sans','Noto Sans CJK SC',sans-serif" font-weight="500" textLength="54.4" lengthAdjust="spacingAndGlyphs">压力传感器1</text>
<text x="992.20" y="488.20" font-size="9.5" fill="#333" text-anchor="start" font-family="'Liberation Sans','Noto Sans CJK SC',sans-serif" font-weight="500" textLength="49.7" lengthAdjust="spacingAndGlyphs">旁通电动阀</text>
<path d="M1077.3 366.5 V358.1 L1091.3 366.5 V358.1" stroke="#555" stroke-width="0.9" fill="#fff" />
<line x1="1079.40" y1="355.00" x2="1089.60" y2="355.00" stroke="#222" stroke-width="0.8" />
<polygon points="1089.60,355.00 1086.10,354.10 1086.10,355.90" fill="#222"/>
<circle cx="1117.50" cy="362.30" r="8.50" stroke="#555" stroke-width="0.9" fill="#fff" />
<line x1="1113.20" y1="355.00" x2="1113.20" y2="369.60" stroke="#555" stroke-width="0.8" />
<path d="M1114.6 354.3 L1125.8 362.3 L1114.6 370.3" stroke="#555" stroke-width="0.8" fill="none" />
<path d="M1077.3 393.2 V384.8 L1091.3 393.2 V384.8" stroke="#555" stroke-width="0.9" fill="#fff" />
<line x1="1079.40" y1="381.70" x2="1089.60" y2="381.70" stroke="#222" stroke-width="0.8" />
<polygon points="1089.60,381.70 1086.10,380.80 1086.10,382.60" fill="#222"/>
<circle cx="1117.50" cy="389.00" r="8.50" stroke="#555" stroke-width="0.9" fill="#fff" />
<line x1="1113.20" y1="381.70" x2="1113.20" y2="396.30" stroke="#555" stroke-width="0.8" />
<path d="M1114.6 381.0 L1125.8 389.0 L1114.6 397.0" stroke="#555" stroke-width="0.8" fill="none" />
<path d="M1077.3 418.6 V410.2 L1091.3 418.6 V410.2" stroke="#555" stroke-width="0.9" fill="#fff" />
<line x1="1079.40" y1="407.10" x2="1089.60" y2="407.10" stroke="#222" stroke-width="0.8" />
<polygon points="1089.60,407.10 1086.10,406.20 1086.10,408.00" fill="#222"/>
<circle cx="1117.50" cy="414.40" r="8.50" stroke="#555" stroke-width="0.9" fill="#fff" />
<line x1="1113.20" y1="407.10" x2="1113.20" y2="421.70" stroke="#555" stroke-width="0.8" />
<path d="M1114.6 406.4 L1125.8 414.4 L1114.6 422.4" stroke="#555" stroke-width="0.8" fill="none" />
<rect x="1156.30" y="387.80" width="7.50" height="2.40" stroke="none" stroke-width="0" fill="#111" rx="0.8"/>
<line x1="1160.00" y1="385.00" x2="1160.00" y2="388.00" stroke="#111" stroke-width="1.2" />
<circle cx="1160.00" cy="383.70" r="1.50" stroke="none" stroke-width="0" fill="#222" />
<path d="M1160.6 382.6 L1165 377.3 H1207" stroke="#444" stroke-width="0.8" fill="none" />
<line x1="876.00" y1="278.30" x2="902.30" y2="278.30" stroke="#111" stroke-width="0.9" />
<polygon points="902.30,278.30 894.70,276.75 894.70,279.85" fill="#111"/>
<line x1="1157.80" y1="401.90" x2="1183.80" y2="401.90" stroke="#111" stroke-width="0.9" />
<polygon points="1183.80,401.90 1176.20,400.35 1176.20,403.45" fill="#111"/>
<line x1="1381.20" y1="283.30" x2="1399.00" y2="283.30" stroke="#111" stroke-width="0.9" />
<polygon points="1399.00,283.30 1393.80,282.15 1393.80,284.45" fill="#111"/>
<line x1="1381.20" y1="357.30" x2="1399.00" y2="357.30" stroke="#111" stroke-width="0.9" />
<polygon points="1399.00,357.30 1393.80,356.15 1393.80,358.45" fill="#111"/>
<line x1="1381.20" y1="434.20" x2="1399.00" y2="434.20" stroke="#111" stroke-width="0.9" />
<polygon points="1399.00,434.20 1393.80,433.05 1393.80,435.35" fill="#111"/>
<line x1="1453.40" y1="317.00" x2="1453.40" y2="343.30" stroke="#111" stroke-width="0.9" />
<polygon points="1453.40,343.30 1451.85,335.70 1454.95,335.70" fill="#111"/>
<line x1="856.30" y1="478.80" x2="856.30" y2="504.80" stroke="#111" stroke-width="0.9" />
<polygon points="856.30,478.80 854.75,486.40 857.85,486.40" fill="#111"/>
<line x1="1126.30" y1="453.50" x2="1152.50" y2="453.50" stroke="#111" stroke-width="0.9" />
<polygon points="1126.30,453.50 1133.90,451.95 1133.90,455.05" fill="#111"/>
<line x1="966.20" y1="544.00" x2="993.00" y2="544.00" stroke="#111" stroke-width="0.9" />
<polygon points="966.20,544.00 973.80,542.45 973.80,545.55" fill="#111"/>
<line x1="1402.10" y1="525.40" x2="1428.50" y2="525.40" stroke="#111" stroke-width="0.9" />
<polygon points="1402.10,525.40 1409.70,523.85 1409.70,526.95" fill="#111"/>
<g transform="translate(0,0)">
<rect x="1278.50" y="239.90" width="29.90" height="3.60" stroke="#555" stroke-width="0.7" fill="#fff" />
<line x1="1278.10" y1="239.10" x2="1308.80" y2="239.10" stroke="#111" stroke-width="1.7" />
<path d="M1281.1 240.7 l1.2 1 h22.4 l1.2 -1" stroke="#888" stroke-width="0.6" fill="none" />
<rect x="1323.60" y="239.90" width="29.90" height="3.60" stroke="#555" stroke-width="0.7" fill="#fff" />
<line x1="1323.20" y1="239.10" x2="1353.90" y2="239.10" stroke="#111" stroke-width="1.7" />
<path d="M1326.2 240.7 l1.2 1 h22.4 l1.2 -1" stroke="#888" stroke-width="0.6" fill="none" />
<rect x="1270.80" y="243.60" width="90.20" height="2.40" stroke="#666" stroke-width="0.8" fill="#fff" />
<rect x="1270.90" y="246.00" width="2.90" height="49.30" stroke="#666" stroke-width="0.8" fill="#fff" />
<rect x="1358.30" y="246.00" width="2.70" height="49.30" stroke="#666" stroke-width="0.8" fill="#fff" />
<circle cx="1272.40" cy="297.30" r="2.00" stroke="#666" stroke-width="0.8" fill="#fff" />
<circle cx="1359.60" cy="297.30" r="2.00" stroke="#666" stroke-width="0.8" fill="#fff" />
<rect x="1273.9" y="246.4" width="29.4" height="41.2" fill="#111"/>
<rect x="1328.9" y="246.4" width="29" height="41.2" fill="#111"/>
<rect x="1274.8" y="247.93" width="25.52" height="37.8" fill="url(#mesh)"/>
<rect x="1331.3" y="247.93" width="25.52" height="37.8" fill="url(#mesh2)"/>
<rect x="1303.40" y="247.20" width="25.40" height="40.20" stroke="#888" stroke-width="0.6" fill="#fff" />
<line x1="1273.90" y1="288.00" x2="1358.30" y2="288.00" stroke="#444" stroke-width="1.0" />
<line x1="1273.90" y1="290.10" x2="1358.30" y2="290.10" stroke="#999" stroke-width="0.7" />
<line x1="1273.90" y1="292.70" x2="1358.30" y2="292.70" stroke="#444" stroke-width="1.1" />
<circle cx="1304.50" cy="269.30" r="0.50" stroke="none" stroke-width="0" fill="#444" />
<text x="1315.30" y="268.30" font-size="7.4" fill="#444" text-anchor="middle" font-family="'Liberation Serif','Noto Serif CJK SC',serif" font-weight="400" >主机</text>
<text x="1315.10" y="276.90" font-size="7.5" fill="#444" text-anchor="middle" font-family="'Liberation Serif','Noto Serif CJK SC',serif" font-weight="400" >01</text>
<path d="M1238.6 286.1 L1254.6 294.3 V286.1 L1238.6 294.3 Z" stroke="#666" stroke-width="0.8" fill="#fff" />
<line x1="1246.60" y1="290.20" x2="1246.60" y2="283.00" stroke="#666" stroke-width="0.8" />
<line x1="1242.30" y1="283.00" x2="1251.00" y2="283.00" stroke="#666" stroke-width="0.8" />
<path d="M1270.8 288.6 l-1.6 1.6 l1.6 1.6 Z" stroke="#111" stroke-width="0.3" fill="#222" />
<path d="M1361 288.6 l1.6 1.6 l-1.6 1.6 Z" stroke="#111" stroke-width="0.3" fill="#222" />
</g>
<g transform="translate(0,74.2)">
<rect x="1278.50" y="239.90" width="29.90" height="3.60" stroke="#555" stroke-width="0.7" fill="#fff" />
<line x1="1278.10" y1="239.10" x2="1308.80" y2="239.10" stroke="#111" stroke-width="1.7" />
<path d="M1281.1 240.7 l1.2 1 h22.4 l1.2 -1" stroke="#888" stroke-width="0.6" fill="none" />
<rect x="1323.60" y="239.90" width="29.90" height="3.60" stroke="#555" stroke-width="0.7" fill="#fff" />
<line x1="1323.20" y1="239.10" x2="1353.90" y2="239.10" stroke="#111" stroke-width="1.7" />
<path d="M1326.2 240.7 l1.2 1 h22.4 l1.2 -1" stroke="#888" stroke-width="0.6" fill="none" />
<rect x="1270.80" y="243.60" width="90.20" height="2.40" stroke="#666" stroke-width="0.8" fill="#fff" />
<rect x="1270.90" y="246.00" width="2.90" height="49.30" stroke="#666" stroke-width="0.8" fill="#fff" />
<rect x="1358.30" y="246.00" width="2.70" height="49.30" stroke="#666" stroke-width="0.8" fill="#fff" />
<circle cx="1272.40" cy="297.30" r="2.00" stroke="#666" stroke-width="0.8" fill="#fff" />
<circle cx="1359.60" cy="297.30" r="2.00" stroke="#666" stroke-width="0.8" fill="#fff" />
<rect x="1273.9" y="246.4" width="29.4" height="41.2" fill="#111"/>
<rect x="1328.9" y="246.4" width="29" height="41.2" fill="#111"/>
<rect x="1274.8" y="247.93" width="25.52" height="37.8" fill="url(#mesh)"/>
<rect x="1331.3" y="247.93" width="25.52" height="37.8" fill="url(#mesh2)"/>
<rect x="1303.40" y="247.20" width="25.40" height="40.20" stroke="#888" stroke-width="0.6" fill="#fff" />
<line x1="1273.90" y1="288.00" x2="1358.30" y2="288.00" stroke="#444" stroke-width="1.0" />
<line x1="1273.90" y1="290.10" x2="1358.30" y2="290.10" stroke="#999" stroke-width="0.7" />
<line x1="1273.90" y1="292.70" x2="1358.30" y2="292.70" stroke="#444" stroke-width="1.1" />
<circle cx="1304.50" cy="269.30" r="0.50" stroke="none" stroke-width="0" fill="#444" />
<text x="1315.90" y="268.30" font-size="7.4" fill="#444" text-anchor="middle" font-family="'Liberation Serif','Noto Serif CJK SC',serif" font-weight="400" >主机</text>
<text x="1315.70" y="276.90" font-size="7.5" fill="#444" text-anchor="middle" font-family="'Liberation Serif','Noto Serif CJK SC',serif" font-weight="400" >02</text>
<path d="M1238.6 286.1 L1254.6 294.3 V286.1 L1238.6 294.3 Z" stroke="#666" stroke-width="0.8" fill="#fff" />
<line x1="1246.60" y1="290.20" x2="1246.60" y2="283.00" stroke="#666" stroke-width="0.8" />
<line x1="1242.30" y1="283.00" x2="1251.00" y2="283.00" stroke="#666" stroke-width="0.8" />
<path d="M1270.8 288.6 l-1.6 1.6 l1.6 1.6 Z" stroke="#111" stroke-width="0.3" fill="#222" />
<path d="M1361 288.6 l1.6 1.6 l-1.6 1.6 Z" stroke="#111" stroke-width="0.3" fill="#222" />
</g>
<g transform="translate(0,151.2)">
<rect x="1278.50" y="239.90" width="29.90" height="3.60" stroke="#555" stroke-width="0.7" fill="#fff" />
<line x1="1278.10" y1="239.10" x2="1308.80" y2="239.10" stroke="#111" stroke-width="1.7" />
<path d="M1281.1 240.7 l1.2 1 h22.4 l1.2 -1" stroke="#888" stroke-width="0.6" fill="none" />
<rect x="1323.60" y="239.90" width="29.90" height="3.60" stroke="#555" stroke-width="0.7" fill="#fff" />
<line x1="1323.20" y1="239.10" x2="1353.90" y2="239.10" stroke="#111" stroke-width="1.7" />
<path d="M1326.2 240.7 l1.2 1 h22.4 l1.2 -1" stroke="#888" stroke-width="0.6" fill="none" />
<rect x="1270.80" y="243.60" width="90.20" height="2.40" stroke="#666" stroke-width="0.8" fill="#fff" />
<rect x="1270.90" y="246.00" width="2.90" height="49.30" stroke="#666" stroke-width="0.8" fill="#fff" />
<rect x="1358.30" y="246.00" width="2.70" height="49.30" stroke="#666" stroke-width="0.8" fill="#fff" />
<circle cx="1272.40" cy="297.30" r="2.00" stroke="#666" stroke-width="0.8" fill="#fff" />
<circle cx="1359.60" cy="297.30" r="2.00" stroke="#666" stroke-width="0.8" fill="#fff" />
<rect x="1273.9" y="246.4" width="29.4" height="41.2" fill="#111"/>
<rect x="1328.9" y="246.4" width="29" height="41.2" fill="#111"/>
<rect x="1274.8" y="247.93" width="25.52" height="37.8" fill="url(#mesh)"/>
<rect x="1331.3" y="247.93" width="25.52" height="37.8" fill="url(#mesh2)"/>
<rect x="1303.40" y="247.20" width="25.40" height="40.20" stroke="#888" stroke-width="0.6" fill="#fff" />
<line x1="1273.90" y1="288.00" x2="1358.30" y2="288.00" stroke="#444" stroke-width="1.0" />
<line x1="1273.90" y1="290.10" x2="1358.30" y2="290.10" stroke="#999" stroke-width="0.7" />
<line x1="1273.90" y1="292.70" x2="1358.30" y2="292.70" stroke="#444" stroke-width="1.1" />
<circle cx="1304.50" cy="267.70" r="0.50" stroke="none" stroke-width="0" fill="#444" />
<text x="1317.00" y="266.70" font-size="7.4" fill="#444" text-anchor="middle" font-family="'Liberation Serif','Noto Serif CJK SC',serif" font-weight="400" >主机</text>
<text x="1316.80" y="275.30" font-size="7.5" fill="#444" text-anchor="middle" font-family="'Liberation Serif','Noto Serif CJK SC',serif" font-weight="400" >03</text>
<path d="M1238.6 286.1 L1254.6 294.3 V286.1 L1238.6 294.3 Z" stroke="#666" stroke-width="0.8" fill="#fff" />
<line x1="1246.60" y1="290.20" x2="1246.60" y2="283.00" stroke="#666" stroke-width="0.8" />
<line x1="1242.30" y1="283.00" x2="1251.00" y2="283.00" stroke="#666" stroke-width="0.8" />
<path d="M1270.8 288.6 l-1.6 1.6 l1.6 1.6 Z" stroke="#111" stroke-width="0.3" fill="#222" />
<path d="M1361 288.6 l1.6 1.6 l-1.6 1.6 Z" stroke="#111" stroke-width="0.3" fill="#222" />
</g>
<path d="M1011.3 460.9 L1027.7 469 V460.9 L1011.3 469 Z" stroke="#444" stroke-width="0.9" fill="#fff" />
<circle cx="1019.60" cy="464.90" r="0.90" stroke="none" stroke-width="0" fill="#222" />
<line x1="1019.60" y1="464.80" x2="1019.60" y2="458.80" stroke="#444" stroke-width="0.9" />
<circle cx="1019.60" cy="455.30" r="3.30" stroke="#444" stroke-width="1.0" fill="#fff" />
<path d="M1017.3 455.4 q1.1 -1.6 2.3 -0.1 t2.3 0.2" stroke="#444" stroke-width="0.8" fill="none" />
<rect x="1054.00" y="524.10" width="72.50" height="22.20" stroke="#444" stroke-width="1.1" fill="#fff" rx="1"/>
<text x="1090.20" y="539.20" font-size="9.6" fill="#333" text-anchor="middle" font-family="'Liberation Sans','Noto Sans CJK SC',sans-serif" font-weight="500" textLength="40" lengthAdjust="spacingAndGlyphs">风机盘管</text>
<line x1="1126.50" y1="527.30" x2="1134.60" y2="527.30" stroke="#555" stroke-width="1.0" />
<line x1="1126.50" y1="529.90" x2="1134.60" y2="529.90" stroke="#555" stroke-width="1.0" />
<path d="M1134.8 526.7 h0.8 q2.2 0 2.2 1.9 t-2.2 1.9 h-0.8 Z" stroke="#222" stroke-width="0.8" fill="#fff" />
<line x1="1134.60" y1="526.60" x2="1134.60" y2="530.60" stroke="#111" stroke-width="1.4" />
<line x1="1126.50" y1="539.30" x2="1134.60" y2="539.30" stroke="#555" stroke-width="1.0" />
<line x1="1126.50" y1="541.90" x2="1134.60" y2="541.90" stroke="#555" stroke-width="1.0" />
<path d="M1134.8 538.7 h0.8 q2.2 0 2.2 1.9 t-2.2 1.9 h-0.8 Z" stroke="#222" stroke-width="0.8" fill="#fff" />
<line x1="1134.60" y1="538.60" x2="1134.60" y2="542.60" stroke="#111" stroke-width="1.4" />
<path d="M1154.8 525.3 L1167.4 531.9 V525.3 L1154.8 531.9 Z" stroke="#555" stroke-width="0.7" fill="#fff" />
<line x1="1160.90" y1="528.60" x2="1160.90" y2="524.20" stroke="#555" stroke-width="0.7" />
<circle cx="1160.90" cy="528.60" r="0.80" stroke="none" stroke-width="0" fill="#222" />
<circle cx="1160.90" cy="521.60" r="2.50" stroke="#444" stroke-width="1.0" fill="#fff" />
<path d="M1159.6 521.8 q0.6 -1.2 1.3 -0.3 t1.3 -0.2" stroke="#444" stroke-width="0.7" fill="none" />
<rect x="1257.50" y="524.10" width="72.50" height="22.20" stroke="#444" stroke-width="1.1" fill="#fff" rx="1"/>
<text x="1293.70" y="539.20" font-size="9.6" fill="#333" text-anchor="middle" font-family="'Liberation Sans','Noto Sans CJK SC',sans-serif" font-weight="500" textLength="40" lengthAdjust="spacingAndGlyphs">风机盘管</text>
<line x1="1330.00" y1="527.30" x2="1338.10" y2="527.30" stroke="#555" stroke-width="1.0" />
<line x1="1330.00" y1="529.90" x2="1338.10" y2="529.90" stroke="#555" stroke-width="1.0" />
<path d="M1338.3 526.7 h0.8 q2.2 0 2.2 1.9 t-2.2 1.9 h-0.8 Z" stroke="#222" stroke-width="0.8" fill="#fff" />
<line x1="1338.10" y1="526.60" x2="1338.10" y2="530.60" stroke="#111" stroke-width="1.4" />
<line x1="1330.00" y1="539.30" x2="1338.10" y2="539.30" stroke="#555" stroke-width="1.0" />
<line x1="1330.00" y1="541.90" x2="1338.10" y2="541.90" stroke="#555" stroke-width="1.0" />
<path d="M1338.3 538.7 h0.8 q2.2 0 2.2 1.9 t-2.2 1.9 h-0.8 Z" stroke="#222" stroke-width="0.8" fill="#fff" />
<line x1="1338.10" y1="538.60" x2="1338.10" y2="542.60" stroke="#111" stroke-width="1.4" />
<path d="M1358.3 525.3 L1370.9 531.9 V525.3 L1358.3 531.9 Z" stroke="#555" stroke-width="0.7" fill="#fff" />
<line x1="1364.40" y1="528.60" x2="1364.40" y2="524.20" stroke="#555" stroke-width="0.7" />
<circle cx="1364.40" cy="528.60" r="0.80" stroke="none" stroke-width="0" fill="#222" />
<circle cx="1364.40" cy="521.60" r="2.50" stroke="#444" stroke-width="1.0" fill="#fff" />
<path d="M1363.1 521.8 q0.6 -1.2 1.3 -0.3 t1.3 -0.2" stroke="#444" stroke-width="0.7" fill="none" />
<path d="M863.5 577.8 q4 -4.4 8 -1.4 t8.2 -1.6" stroke="#444" stroke-width="0.8" fill="none" />
<path d="M1433.8 577.8 q4 -4.4 8 -1.4 t8.2 -1.6" stroke="#444" stroke-width="0.8" fill="none" />
</g>
</svg>
<div id="title">工程安装示意图</div>
<div class="cap" style="left:191.8px;width:400px;"><i>(</i>主机平面工程安装示意图<i>)</i></div>
<div class="cap" style="left:954.4px;width:400px;"><i>(</i>中央空调恒压水系统示意图<i>)</i></div>
</body></html>
